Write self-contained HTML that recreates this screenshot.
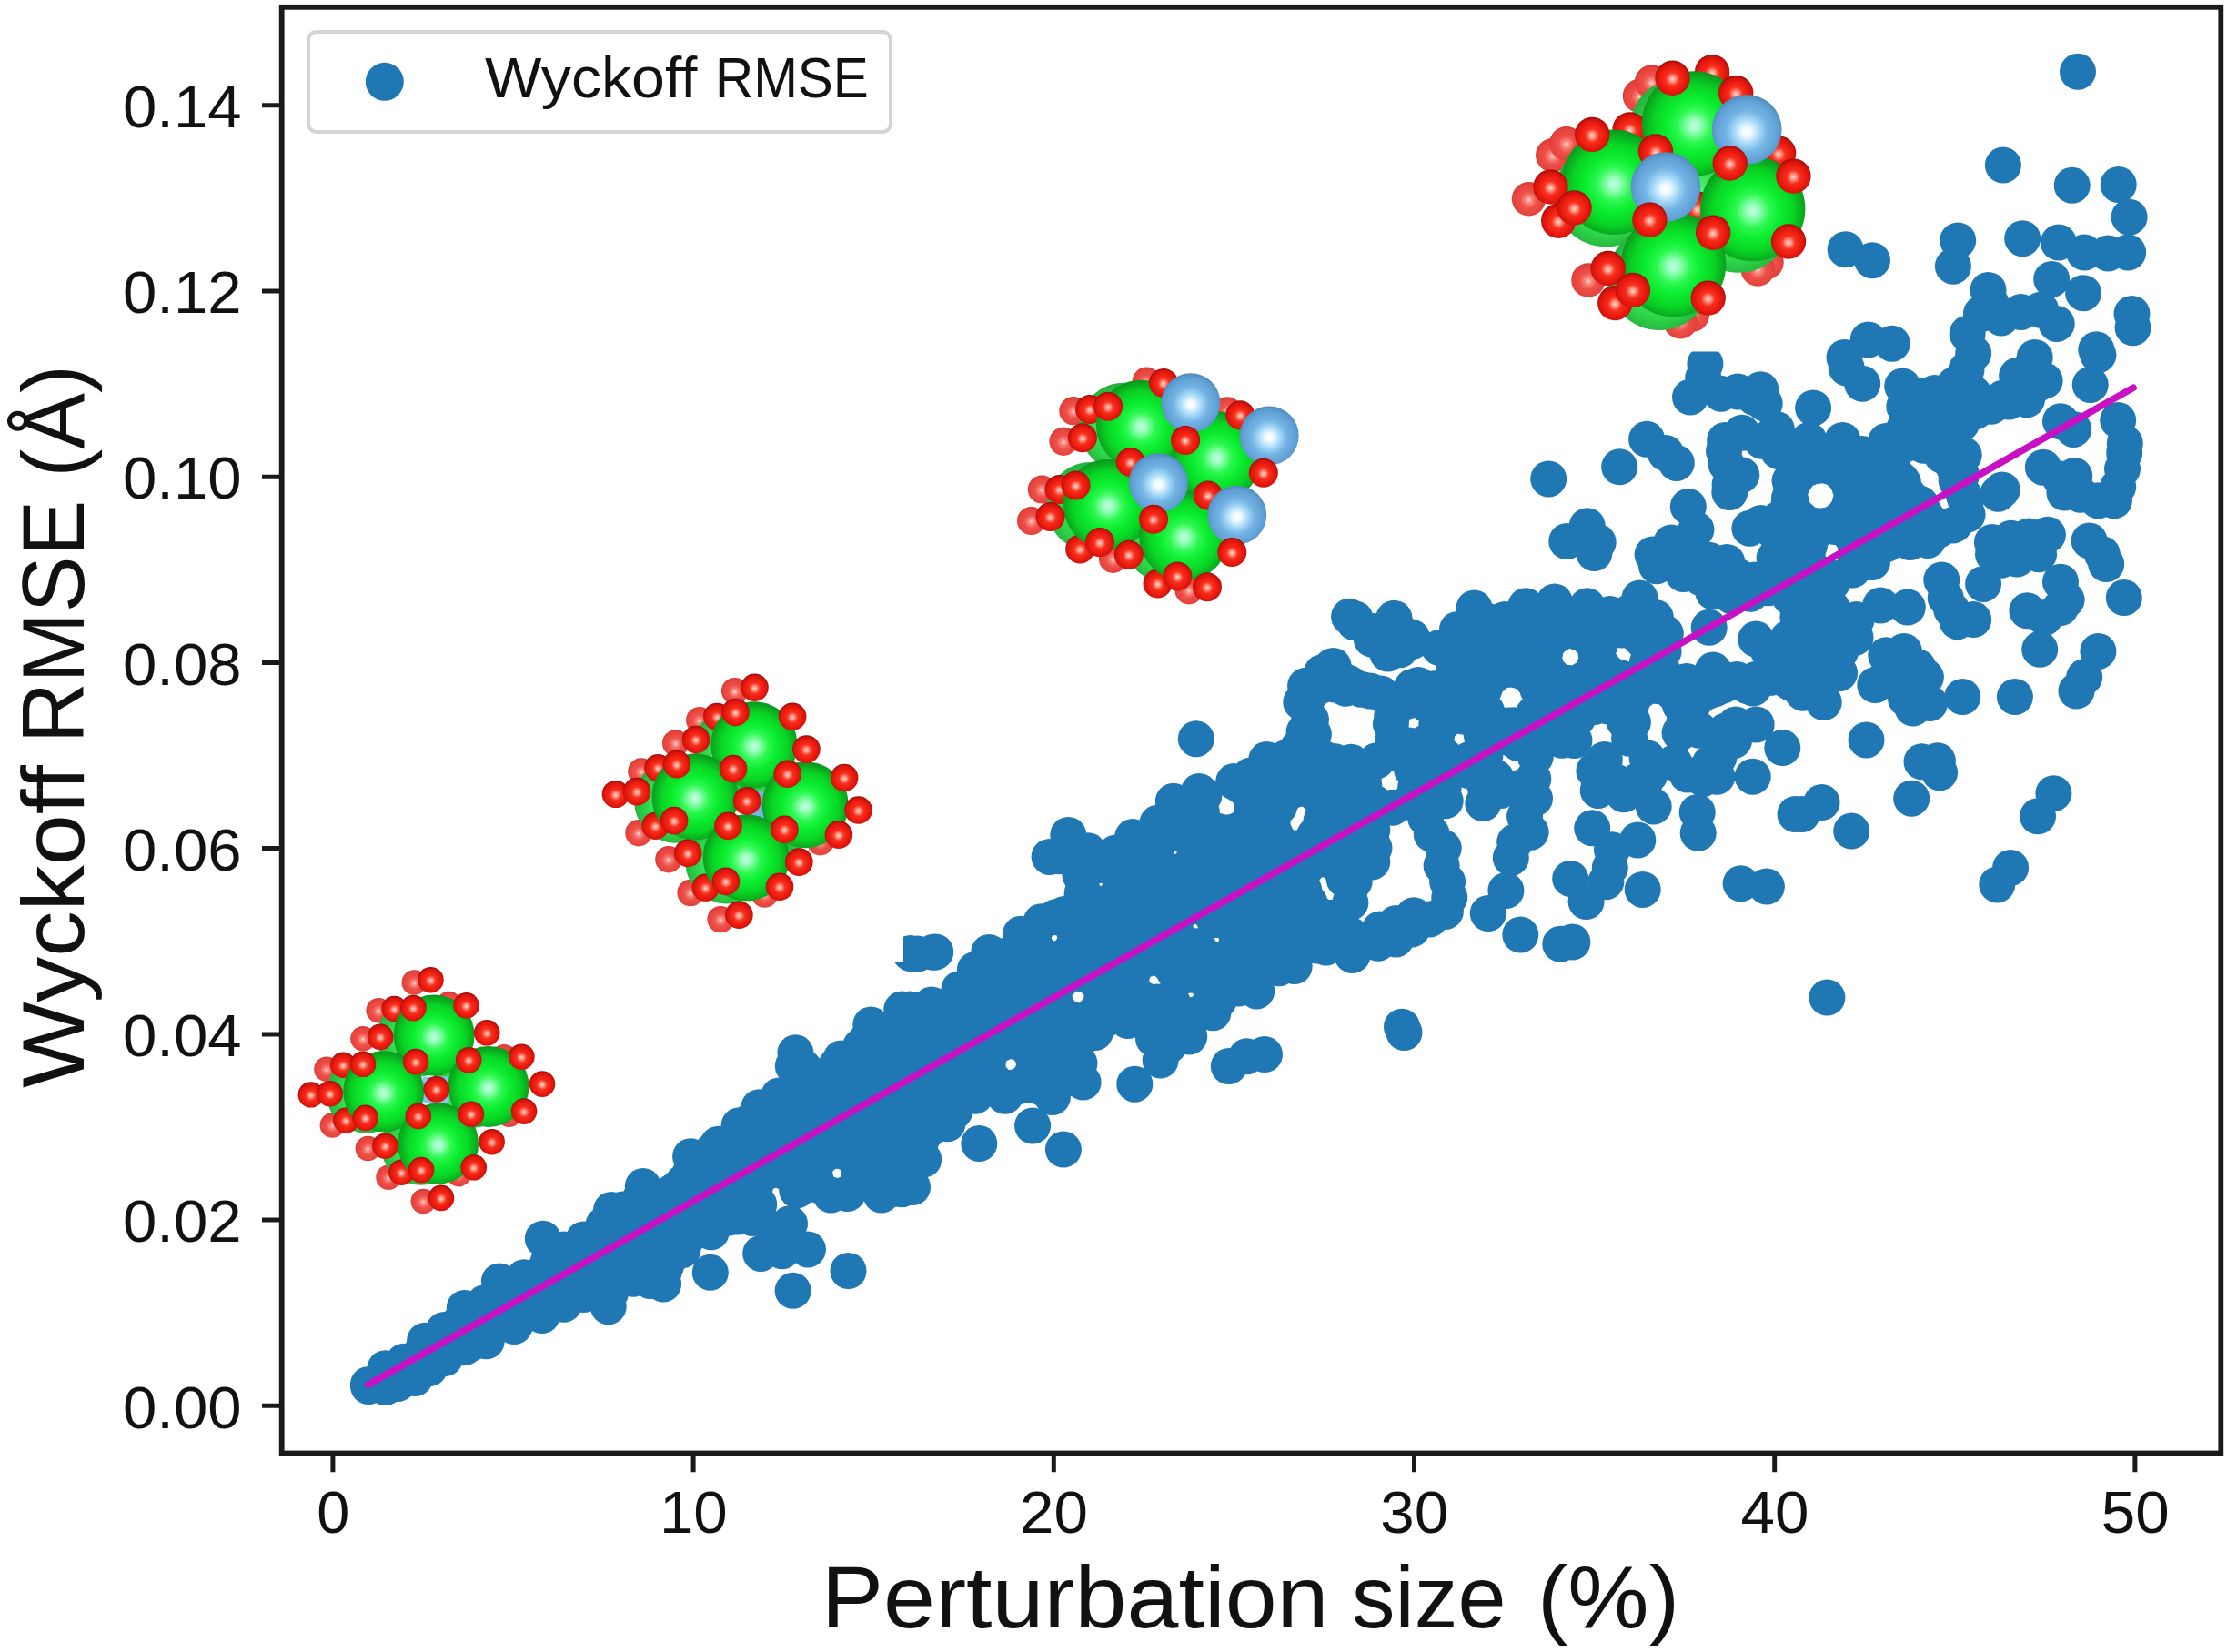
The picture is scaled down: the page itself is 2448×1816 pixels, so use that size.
<!DOCTYPE html>
<html><head><meta charset="utf-8"><title>Wyckoff RMSE vs perturbation size</title>
<style>html,body{margin:0;padding:0;background:#fff}svg{display:block}text{font-family:"Liberation Sans",sans-serif}</style>
</head><body>
<svg width="2448" height="1816" viewBox="0 0 2448 1816">
<rect width="2448" height="1816" fill="#fff"/>
<g fill="#1f77b4">
<circle cx="1435.1" cy="753.9" r="20.0"/><circle cx="1452.5" cy="745.2" r="20.0"/><circle cx="1465.6" cy="732.1" r="20.0"/><circle cx="1485.2" cy="752.8" r="20.0"/><circle cx="1505.9" cy="759.4" r="20.0"/><circle cx="1517.9" cy="762.6" r="20.0"/><circle cx="1496.2" cy="757.7" r="20.0"/><circle cx="1481.7" cy="750.4" r="20.0"/><circle cx="1441.0" cy="791.1" r="20.0"/><circle cx="1443.9" cy="807.1" r="20.0"/><circle cx="1489.0" cy="684.3" r="20.0"/><circle cx="1532.5" cy="680.0" r="20.0"/><circle cx="1525.3" cy="718.4" r="20.0"/><circle cx="1507.8" cy="702.5" r="20.0"/><circle cx="1544.1" cy="698.1" r="20.0"/><circle cx="2284.0" cy="78.8" r="20.0"/><circle cx="2201.9" cy="181.6" r="20.0"/><circle cx="2277.7" cy="203.8" r="20.0"/><circle cx="2328.7" cy="203.0" r="20.0"/><circle cx="2340.6" cy="238.7" r="20.0"/><circle cx="2152.2" cy="264.4" r="20.0"/><circle cx="2146.9" cy="292.7" r="20.0"/><circle cx="2223.2" cy="262.2" r="20.0"/><circle cx="2028.6" cy="274.2" r="20.0"/><circle cx="2058.0" cy="286.2" r="20.0"/><circle cx="2255.2" cy="306.9" r="20.0"/><circle cx="2185.5" cy="318.9" r="20.0"/><circle cx="2290.1" cy="322.2" r="20.0"/><circle cx="2343.5" cy="345.0" r="20.0"/><circle cx="2344.6" cy="360.3" r="20.0"/><circle cx="2162.6" cy="366.8" r="20.0"/><circle cx="2304.3" cy="384.3" r="20.0"/><circle cx="2053.7" cy="373.4" r="20.0"/><circle cx="2079.8" cy="377.7" r="20.0"/><circle cx="2262.9" cy="266.6" r="20.0"/><circle cx="2291.2" cy="277.5" r="20.0"/><circle cx="2317.3" cy="278.6" r="20.0"/><circle cx="2339.1" cy="277.5" r="20.0"/><circle cx="2177.9" cy="345.0" r="20.0"/><circle cx="2199.7" cy="349.4" r="20.0"/><circle cx="2221.5" cy="342.9" r="20.0"/><circle cx="2243.2" cy="340.7" r="20.0"/><circle cx="2260.7" cy="355.9" r="20.0"/><circle cx="2188.8" cy="334.1" r="20.0"/><circle cx="2169.2" cy="388.6" r="20.0"/><circle cx="2236.7" cy="393.0" r="20.0"/><circle cx="2027.5" cy="393.0" r="20.0"/><circle cx="2029.7" cy="404.4" r="20.0"/><circle cx="2047.2" cy="421.8" r="20.0"/><circle cx="1993.1" cy="448.4" r="20.0"/><circle cx="2091.2" cy="424.4" r="20.0"/><circle cx="2093.3" cy="446.8" r="20.0"/><circle cx="2110.3" cy="434.9" r="20.0"/><circle cx="2112.5" cy="454.5" r="20.0"/><circle cx="2126.7" cy="432.0" r="20.0"/><circle cx="2132.1" cy="452.3" r="20.0"/><circle cx="2148.5" cy="422.9" r="20.0"/><circle cx="2151.7" cy="443.6" r="20.0"/><circle cx="2161.5" cy="406.5" r="20.0"/><circle cx="2169.2" cy="432.7" r="20.0"/><circle cx="2171.3" cy="452.3" r="20.0"/><circle cx="2188.8" cy="446.8" r="20.0"/><circle cx="2208.4" cy="441.4" r="20.0"/><circle cx="2217.1" cy="413.1" r="20.0"/><circle cx="2219.3" cy="428.3" r="20.0"/><circle cx="2232.4" cy="404.4" r="20.0"/><circle cx="2236.7" cy="424.0" r="20.0"/><circle cx="2247.6" cy="418.5" r="20.0"/><circle cx="2228.0" cy="439.2" r="20.0"/><circle cx="2201.9" cy="437.5" r="20.0"/><circle cx="2297.7" cy="422.9" r="20.0"/><circle cx="2306.4" cy="390.2" r="20.0"/><circle cx="2265.0" cy="463.2" r="20.0"/><circle cx="2279.2" cy="471.9" r="20.0"/><circle cx="2328.2" cy="462.1" r="20.0"/><circle cx="2335.8" cy="487.2" r="20.0"/><circle cx="2335.2" cy="498.0" r="20.0"/><circle cx="2333.0" cy="515.5" r="20.0"/><circle cx="2328.2" cy="535.1" r="20.0"/><circle cx="2323.9" cy="550.3" r="20.0"/><circle cx="2245.9" cy="513.7" r="20.0"/><circle cx="2265.0" cy="526.4" r="20.0"/><circle cx="2280.3" cy="523.1" r="20.0"/><circle cx="2286.8" cy="543.8" r="20.0"/><circle cx="2306.4" cy="550.3" r="20.0"/><circle cx="2269.4" cy="541.6" r="20.0"/><circle cx="2105.9" cy="475.4" r="20.0"/><circle cx="2121.9" cy="474.9" r="20.0"/><circle cx="2135.2" cy="476.7" r="20.0"/><circle cx="2146.3" cy="477.5" r="20.0"/><circle cx="2083.2" cy="489.2" r="20.0"/><circle cx="2097.4" cy="487.2" r="20.0"/><circle cx="2114.7" cy="489.8" r="20.0"/><circle cx="2125.7" cy="488.0" r="20.0"/><circle cx="2142.8" cy="492.3" r="20.0"/><circle cx="1967.5" cy="501.1" r="20.0"/><circle cx="1983.9" cy="499.0" r="20.0"/><circle cx="1997.2" cy="500.5" r="20.0"/><circle cx="2006.9" cy="499.4" r="20.0"/><circle cx="2021.9" cy="503.6" r="20.0"/><circle cx="2035.1" cy="502.2" r="20.0"/><circle cx="2065.8" cy="501.0" r="20.0"/><circle cx="2079.3" cy="499.1" r="20.0"/><circle cx="2084.4" cy="495.7" r="20.0"/><circle cx="2134.7" cy="500.5" r="20.0"/><circle cx="2150.8" cy="502.9" r="20.0"/><circle cx="1972.5" cy="514.3" r="20.0"/><circle cx="1987.4" cy="514.5" r="20.0"/><circle cx="2003.4" cy="511.4" r="20.0"/><circle cx="2018.9" cy="511.6" r="20.0"/><circle cx="2029.5" cy="515.4" r="20.0"/><circle cx="2041.9" cy="513.8" r="20.0"/><circle cx="2055.2" cy="514.9" r="20.0"/><circle cx="2073.6" cy="514.3" r="20.0"/><circle cx="2080.8" cy="514.7" r="20.0"/><circle cx="2141.0" cy="504.3" r="20.0"/><circle cx="2147.1" cy="511.9" r="20.0"/><circle cx="1967.6" cy="528.5" r="20.0"/><circle cx="1975.5" cy="523.7" r="20.0"/><circle cx="1994.2" cy="512.2" r="20.0"/><circle cx="2013.5" cy="513.6" r="20.0"/><circle cx="2024.8" cy="520.9" r="20.0"/><circle cx="2035.0" cy="523.7" r="20.0"/><circle cx="2048.4" cy="527.6" r="20.0"/><circle cx="2062.8" cy="524.5" r="20.0"/><circle cx="2078.3" cy="528.2" r="20.0"/><circle cx="2089.4" cy="527.2" r="20.0"/><circle cx="2091.9" cy="530.4" r="20.0"/><circle cx="2150.7" cy="524.2" r="20.0"/><circle cx="2150.7" cy="528.5" r="20.0"/><circle cx="1969.9" cy="533.5" r="20.0"/><circle cx="1972.0" cy="528.8" r="20.0"/><circle cx="1996.6" cy="511.7" r="20.0"/><circle cx="2030.9" cy="528.9" r="20.0"/><circle cx="2033.6" cy="535.7" r="20.0"/><circle cx="2043.2" cy="538.5" r="20.0"/><circle cx="2060.7" cy="539.3" r="20.0"/><circle cx="2072.1" cy="538.8" r="20.0"/><circle cx="2087.1" cy="535.4" r="20.0"/><circle cx="2097.1" cy="543.5" r="20.0"/><circle cx="2111.0" cy="554.1" r="20.0"/><circle cx="1967.1" cy="547.5" r="20.0"/><circle cx="1968.3" cy="549.9" r="20.0"/><circle cx="1969.9" cy="556.3" r="20.0"/><circle cx="2028.8" cy="564.2" r="20.0"/><circle cx="2034.0" cy="552.6" r="20.0"/><circle cx="2034.2" cy="552.5" r="20.0"/><circle cx="2051.7" cy="548.1" r="20.0"/><circle cx="2063.5" cy="549.3" r="20.0"/><circle cx="2078.2" cy="548.0" r="20.0"/><circle cx="2095.1" cy="553.2" r="20.0"/><circle cx="2105.9" cy="551.7" r="20.0"/><circle cx="2158.8" cy="544.1" r="20.0"/><circle cx="1971.1" cy="565.1" r="20.0"/><circle cx="1979.5" cy="570.3" r="20.0"/><circle cx="2003.4" cy="578.3" r="20.0"/><circle cx="2021.1" cy="572.0" r="20.0"/><circle cx="2032.2" cy="563.5" r="20.0"/><circle cx="2042.6" cy="561.6" r="20.0"/><circle cx="2056.0" cy="564.0" r="20.0"/><circle cx="2072.2" cy="564.0" r="20.0"/><circle cx="2085.0" cy="560.7" r="20.0"/><circle cx="2101.9" cy="565.3" r="20.0"/><circle cx="2115.5" cy="564.4" r="20.0"/><circle cx="2121.7" cy="573.0" r="20.0"/><circle cx="2146.1" cy="577.5" r="20.0"/><circle cx="1966.1" cy="571.7" r="20.0"/><circle cx="1978.2" cy="573.2" r="20.0"/><circle cx="1993.1" cy="577.4" r="20.0"/><circle cx="2012.6" cy="576.5" r="20.0"/><circle cx="2025.6" cy="577.4" r="20.0"/><circle cx="2039.7" cy="573.7" r="20.0"/><circle cx="2049.3" cy="572.8" r="20.0"/><circle cx="2063.2" cy="572.7" r="20.0"/><circle cx="2079.7" cy="576.9" r="20.0"/><circle cx="2095.0" cy="574.4" r="20.0"/><circle cx="2107.9" cy="576.3" r="20.0"/><circle cx="2118.5" cy="575.4" r="20.0"/><circle cx="1976.5" cy="588.3" r="20.0"/><circle cx="1989.5" cy="586.5" r="20.0"/><circle cx="1996.5" cy="584.3" r="20.0"/><circle cx="2017.2" cy="579.1" r="20.0"/><circle cx="2032.8" cy="586.0" r="20.0"/><circle cx="2043.4" cy="589.3" r="20.0"/><circle cx="2059.3" cy="584.6" r="20.0"/><circle cx="2069.8" cy="584.5" r="20.0"/><circle cx="2088.4" cy="588.4" r="20.0"/><circle cx="2097.9" cy="588.6" r="20.0"/><circle cx="2116.9" cy="587.5" r="20.0"/><circle cx="1966.1" cy="599.0" r="20.0"/><circle cx="1978.8" cy="595.8" r="20.0"/><circle cx="1989.0" cy="598.4" r="20.0"/><circle cx="1988.9" cy="599.7" r="20.0"/><circle cx="2039.0" cy="597.0" r="20.0"/><circle cx="2049.5" cy="597.5" r="20.0"/><circle cx="1972.4" cy="611.4" r="20.0"/><circle cx="1986.6" cy="610.4" r="20.0"/><circle cx="2043.5" cy="613.4" r="20.0"/><circle cx="1960.0" cy="487.2" r="20.0"/><circle cx="1988.3" cy="483.9" r="20.0"/><circle cx="2025.4" cy="483.9" r="20.0"/><circle cx="2047.2" cy="499.1" r="20.0"/><circle cx="2073.3" cy="485.0" r="20.0"/><circle cx="2092.9" cy="471.9" r="20.0"/><circle cx="2156.1" cy="465.4" r="20.0"/><circle cx="2158.7" cy="500.2" r="20.0"/><circle cx="2156.1" cy="522.0" r="20.0"/><circle cx="2160.9" cy="550.0" r="20.0"/><circle cx="2162.6" cy="565.6" r="20.0"/><circle cx="2148.5" cy="576.4" r="20.0"/><circle cx="2129.9" cy="583.0" r="20.0"/><circle cx="2119.1" cy="593.9" r="20.0"/><circle cx="2099.4" cy="596.1" r="20.0"/><circle cx="2073.3" cy="598.3" r="20.0"/><circle cx="2058.0" cy="617.9" r="20.0"/><circle cx="1960.0" cy="617.9" r="20.0"/><circle cx="2200.8" cy="538.4" r="20.0"/><circle cx="2196.4" cy="542.7" r="20.0"/><circle cx="1967.0" cy="630.2" r="20.0"/><circle cx="1981.1" cy="627.1" r="20.0"/><circle cx="1994.6" cy="628.1" r="20.0"/><circle cx="2006.0" cy="631.8" r="20.0"/><circle cx="1972.0" cy="642.0" r="20.0"/><circle cx="1989.4" cy="642.5" r="20.0"/><circle cx="2001.0" cy="642.2" r="20.0"/><circle cx="1967.3" cy="656.0" r="20.0"/><circle cx="1978.6" cy="654.6" r="20.0"/><circle cx="1993.5" cy="652.9" r="20.0"/><circle cx="1975.6" cy="666.4" r="20.0"/><circle cx="1988.4" cy="667.9" r="20.0"/><circle cx="2004.5" cy="666.0" r="20.0"/><circle cx="1976.4" cy="678.3" r="20.0"/><circle cx="1981.1" cy="679.7" r="20.0"/><circle cx="1994.7" cy="678.7" r="20.0"/><circle cx="2008.9" cy="681.2" r="20.0"/><circle cx="1975.2" cy="692.9" r="20.0"/><circle cx="1990.7" cy="689.2" r="20.0"/><circle cx="2002.4" cy="693.3" r="20.0"/><circle cx="2018.0" cy="688.5" r="20.0"/><circle cx="2027.7" cy="690.3" r="20.0"/><circle cx="1965.2" cy="702.1" r="20.0"/><circle cx="1978.4" cy="703.8" r="20.0"/><circle cx="1996.7" cy="705.1" r="20.0"/><circle cx="2006.9" cy="704.0" r="20.0"/><circle cx="2024.0" cy="700.6" r="20.0"/><circle cx="1976.3" cy="717.7" r="20.0"/><circle cx="1986.3" cy="717.6" r="20.0"/><circle cx="2001.4" cy="714.8" r="20.0"/><circle cx="2018.9" cy="716.9" r="20.0"/><circle cx="1965.0" cy="726.6" r="20.0"/><circle cx="1981.1" cy="726.0" r="20.0"/><circle cx="1993.2" cy="725.9" r="20.0"/><circle cx="2010.3" cy="724.1" r="20.0"/><circle cx="1974.3" cy="738.8" r="20.0"/><circle cx="1965.2" cy="748.3" r="20.0"/><circle cx="1960.0" cy="617.9" r="20.0"/><circle cx="2051.5" cy="617.9" r="20.0"/><circle cx="2036.3" cy="626.6" r="20.0"/><circle cx="2014.5" cy="639.7" r="20.0"/><circle cx="2013.4" cy="668.0" r="20.0"/><circle cx="2040.6" cy="681.1" r="20.0"/><circle cx="2039.5" cy="700.7" r="20.0"/><circle cx="2023.2" cy="715.9" r="20.0"/><circle cx="2022.1" cy="739.9" r="20.0"/><circle cx="1992.7" cy="739.9" r="20.0"/><circle cx="1981.8" cy="761.7" r="20.0"/><circle cx="1968.9" cy="750.9" r="20.0"/><circle cx="2067.2" cy="665.4" r="20.0"/><circle cx="2096.8" cy="667.6" r="20.0"/><circle cx="2134.3" cy="637.5" r="20.0"/><circle cx="2138.7" cy="657.1" r="20.0"/><circle cx="2145.2" cy="670.2" r="20.0"/><circle cx="2169.2" cy="681.1" r="20.0"/><circle cx="2151.7" cy="683.2" r="20.0"/><circle cx="2180.1" cy="641.9" r="20.0"/><circle cx="2189.9" cy="596.1" r="20.0"/><circle cx="2210.6" cy="591.7" r="20.0"/><circle cx="2230.2" cy="589.6" r="20.0"/><circle cx="2250.9" cy="587.8" r="20.0"/><circle cx="2199.7" cy="615.7" r="20.0"/><circle cx="2217.1" cy="614.6" r="20.0"/><circle cx="2241.1" cy="609.2" r="20.0"/><circle cx="2191.0" cy="609.2" r="20.0"/><circle cx="2296.6" cy="594.4" r="20.0"/><circle cx="2310.8" cy="609.2" r="20.0"/><circle cx="2315.2" cy="620.1" r="20.0"/><circle cx="2265.0" cy="639.7" r="20.0"/><circle cx="2271.6" cy="659.3" r="20.0"/><circle cx="2228.4" cy="671.3" r="20.0"/><circle cx="2247.6" cy="678.9" r="20.0"/><circle cx="2265.0" cy="668.0" r="20.0"/><circle cx="2242.2" cy="713.8" r="20.0"/><circle cx="2334.8" cy="657.1" r="20.0"/><circle cx="2306.4" cy="715.9" r="20.0"/><circle cx="2291.2" cy="744.3" r="20.0"/><circle cx="2282.5" cy="759.5" r="20.0"/><circle cx="2073.3" cy="720.3" r="20.0"/><circle cx="2092.9" cy="715.9" r="20.0"/><circle cx="2108.2" cy="733.4" r="20.0"/><circle cx="2116.9" cy="744.3" r="20.0"/><circle cx="2090.7" cy="750.8" r="20.0"/><circle cx="2073.3" cy="744.3" r="20.0"/><circle cx="2095.1" cy="768.2" r="20.0"/><circle cx="2157.2" cy="766.0" r="20.0"/><circle cx="2214.9" cy="766.0" r="20.0"/><circle cx="1702.2" cy="526.4" r="20.0"/><circle cx="1780.2" cy="513.3" r="20.0"/><circle cx="1810.1" cy="482.8" r="20.0"/><circle cx="1830.8" cy="498.0" r="20.0"/><circle cx="1842.8" cy="508.9" r="20.0"/><circle cx="1744.7" cy="578.2" r="20.0"/><circle cx="1722.3" cy="595.0" r="20.0"/><circle cx="1756.7" cy="596.1" r="20.0"/><circle cx="1752.4" cy="608.1" r="20.0"/><circle cx="1858.0" cy="436.6" r="20.0"/><circle cx="1872.2" cy="415.3" r="20.0"/><circle cx="1874.4" cy="400.0" r="20.0"/><circle cx="1910.3" cy="430.5" r="20.0"/><circle cx="1928.8" cy="437.0" r="20.0"/><circle cx="1939.7" cy="443.6" r="20.0"/><circle cx="1935.4" cy="428.3" r="20.0"/><circle cx="1891.8" cy="432.7" r="20.0"/><circle cx="1896.2" cy="483.9" r="20.0"/><circle cx="1895.0" cy="495.8" r="20.0"/><circle cx="1914.9" cy="475.8" r="20.0"/><circle cx="1937.0" cy="484.8" r="20.0"/><circle cx="1897.5" cy="510.0" r="20.0"/><circle cx="1914.3" cy="522.2" r="20.0"/><circle cx="1901.6" cy="532.9" r="20.0"/><circle cx="1901.3" cy="541.0" r="20.0"/><circle cx="1952.8" cy="471.9" r="20.0"/><circle cx="1955.0" cy="495.9" r="20.0"/><circle cx="1923.4" cy="580.8" r="20.0"/><circle cx="1935.6" cy="575.1" r="20.0"/><circle cx="1950.6" cy="585.2" r="20.0"/><circle cx="1966.3" cy="555.1" r="20.0"/><circle cx="1955.0" cy="571.0" r="20.0"/><circle cx="1855.8" cy="556.9" r="20.0"/><circle cx="1864.4" cy="582.2" r="20.0"/><circle cx="1816.6" cy="609.6" r="20.0"/><circle cx="1837.3" cy="596.5" r="20.0"/><circle cx="1821.0" cy="622.2" r="20.0"/><circle cx="1839.5" cy="617.9" r="20.0"/><circle cx="1859.1" cy="615.7" r="20.0"/><circle cx="1878.7" cy="615.7" r="20.0"/><circle cx="1898.3" cy="617.9" r="20.0"/><circle cx="1910.4" cy="633.7" r="20.0"/><circle cx="1850.4" cy="631.0" r="20.0"/><circle cx="1870.0" cy="635.3" r="20.0"/><circle cx="1889.6" cy="637.5" r="20.0"/><circle cx="1909.2" cy="639.7" r="20.0"/><circle cx="1928.8" cy="637.5" r="20.0"/><circle cx="1948.5" cy="631.0" r="20.0"/><circle cx="1883.1" cy="650.6" r="20.0"/><circle cx="1902.7" cy="654.9" r="20.0"/><circle cx="1924.5" cy="652.7" r="20.0"/><circle cx="1944.1" cy="646.2" r="20.0"/><circle cx="1950.6" cy="613.5" r="20.0"/><circle cx="1859.1" cy="596.1" r="20.0"/><circle cx="1711.7" cy="669.7" r="20.0"/><circle cx="1792.4" cy="672.6" r="20.0"/><circle cx="1621.7" cy="684.6" r="20.0"/><circle cx="1673.6" cy="680.4" r="20.0"/><circle cx="1687.2" cy="683.5" r="20.0"/><circle cx="1702.6" cy="679.6" r="20.0"/><circle cx="1717.5" cy="684.3" r="20.0"/><circle cx="1733.9" cy="680.3" r="20.0"/><circle cx="1743.9" cy="684.3" r="20.0"/><circle cx="1760.4" cy="683.0" r="20.0"/><circle cx="1771.5" cy="679.1" r="20.0"/><circle cx="1789.1" cy="681.3" r="20.0"/><circle cx="1799.4" cy="684.4" r="20.0"/><circle cx="1526.5" cy="696.0" r="20.0"/><circle cx="1610.4" cy="696.1" r="20.0"/><circle cx="1626.7" cy="692.9" r="20.0"/><circle cx="1641.3" cy="696.5" r="20.0"/><circle cx="1653.6" cy="691.7" r="20.0"/><circle cx="1669.2" cy="692.3" r="20.0"/><circle cx="1680.7" cy="691.9" r="20.0"/><circle cx="1694.3" cy="692.1" r="20.0"/><circle cx="1709.9" cy="692.7" r="20.0"/><circle cx="1726.6" cy="692.7" r="20.0"/><circle cx="1739.0" cy="692.0" r="20.0"/><circle cx="1752.1" cy="691.0" r="20.0"/><circle cx="1765.5" cy="691.0" r="20.0"/><circle cx="1782.3" cy="692.5" r="20.0"/><circle cx="1793.1" cy="693.8" r="20.0"/><circle cx="1811.6" cy="691.5" r="20.0"/><circle cx="1521.4" cy="706.1" r="20.0"/><circle cx="1537.1" cy="708.9" r="20.0"/><circle cx="1605.1" cy="708.0" r="20.0"/><circle cx="1621.2" cy="706.9" r="20.0"/><circle cx="1633.4" cy="705.1" r="20.0"/><circle cx="1645.3" cy="703.8" r="20.0"/><circle cx="1659.4" cy="707.5" r="20.0"/><circle cx="1674.5" cy="704.0" r="20.0"/><circle cx="1687.5" cy="708.1" r="20.0"/><circle cx="1703.5" cy="704.9" r="20.0"/><circle cx="1712.8" cy="697.1" r="20.0"/><circle cx="1733.8" cy="694.8" r="20.0"/><circle cx="1747.1" cy="702.7" r="20.0"/><circle cx="1758.6" cy="708.8" r="20.0"/><circle cx="1803.6" cy="701.9" r="20.0"/><circle cx="1813.0" cy="705.3" r="20.0"/><circle cx="1526.5" cy="717.6" r="20.0"/><circle cx="1538.8" cy="714.3" r="20.0"/><circle cx="1553.0" cy="704.8" r="20.0"/><circle cx="1600.5" cy="719.1" r="20.0"/><circle cx="1614.3" cy="720.4" r="20.0"/><circle cx="1626.3" cy="717.1" r="20.0"/><circle cx="1643.9" cy="716.1" r="20.0"/><circle cx="1656.3" cy="719.0" r="20.0"/><circle cx="1666.3" cy="720.2" r="20.0"/><circle cx="1685.4" cy="718.9" r="20.0"/><circle cx="1697.6" cy="720.0" r="20.0"/><circle cx="1698.3" cy="715.8" r="20.0"/><circle cx="1713.1" cy="696.9" r="20.0"/><circle cx="1754.6" cy="717.9" r="20.0"/><circle cx="1754.9" cy="720.4" r="20.0"/><circle cx="1808.3" cy="707.1" r="20.0"/><circle cx="1598.2" cy="727.3" r="20.0"/><circle cx="1603.4" cy="728.9" r="20.0"/><circle cx="1621.4" cy="728.5" r="20.0"/><circle cx="1635.4" cy="733.1" r="20.0"/><circle cx="1648.0" cy="729.6" r="20.0"/><circle cx="1661.9" cy="731.4" r="20.0"/><circle cx="1677.6" cy="731.0" r="20.0"/><circle cx="1690.9" cy="727.7" r="20.0"/><circle cx="1698.4" cy="729.7" r="20.0"/><circle cx="1705.7" cy="742.6" r="20.0"/><circle cx="1748.8" cy="740.3" r="20.0"/><circle cx="1753.1" cy="732.5" r="20.0"/><circle cx="1761.0" cy="731.4" r="20.0"/><circle cx="1559.0" cy="753.1" r="20.0"/><circle cx="1589.0" cy="753.7" r="20.0"/><circle cx="1597.3" cy="742.9" r="20.0"/><circle cx="1610.9" cy="742.6" r="20.0"/><circle cx="1629.7" cy="740.2" r="20.0"/><circle cx="1642.4" cy="741.8" r="20.0"/><circle cx="1656.1" cy="736.0" r="20.0"/><circle cx="1669.7" cy="737.0" r="20.0"/><circle cx="1682.9" cy="739.6" r="20.0"/><circle cx="1694.0" cy="742.4" r="20.0"/><circle cx="1707.9" cy="744.6" r="20.0"/><circle cx="1721.2" cy="750.7" r="20.0"/><circle cx="1739.7" cy="747.8" r="20.0"/><circle cx="1750.0" cy="743.9" r="20.0"/><circle cx="1769.0" cy="740.1" r="20.0"/><circle cx="1547.8" cy="762.7" r="20.0"/><circle cx="1552.2" cy="755.3" r="20.0"/><circle cx="1575.6" cy="757.6" r="20.0"/><circle cx="1590.7" cy="757.1" r="20.0"/><circle cx="1604.5" cy="753.1" r="20.0"/><circle cx="1620.1" cy="752.7" r="20.0"/><circle cx="1631.6" cy="756.7" r="20.0"/><circle cx="1638.6" cy="745.1" r="20.0"/><circle cx="1667.0" cy="736.3" r="20.0"/><circle cx="1686.7" cy="749.6" r="20.0"/><circle cx="1691.3" cy="751.8" r="20.0"/><circle cx="1705.4" cy="754.2" r="20.0"/><circle cx="1719.5" cy="755.4" r="20.0"/><circle cx="1730.7" cy="751.8" r="20.0"/><circle cx="1748.6" cy="752.3" r="20.0"/><circle cx="1759.8" cy="753.6" r="20.0"/><circle cx="1483.1" cy="677.8" r="20.0"/><circle cx="1489.5" cy="680.4" r="20.0"/><circle cx="1510.5" cy="694.1" r="20.0"/><circle cx="1532.3" cy="680.0" r="20.0"/><circle cx="1551.9" cy="700.7" r="20.0"/><circle cx="1582.4" cy="712.0" r="20.0"/><circle cx="1602.0" cy="692.0" r="20.0"/><circle cx="1620.5" cy="668.4" r="20.0"/><circle cx="1636.9" cy="683.2" r="20.0"/><circle cx="1654.3" cy="681.1" r="20.0"/><circle cx="1677.2" cy="666.3" r="20.0"/><circle cx="1708.8" cy="661.5" r="20.0"/><circle cx="1744.7" cy="666.3" r="20.0"/><circle cx="1769.8" cy="675.0" r="20.0"/><circle cx="1802.5" cy="657.5" r="20.0"/><circle cx="1819.9" cy="678.9" r="20.0"/><circle cx="1830.8" cy="696.3" r="20.0"/><circle cx="1828.6" cy="715.9" r="20.0"/><circle cx="1810.9" cy="728.3" r="20.0"/><circle cx="1763.2" cy="770.4" r="20.0"/><circle cx="1479.4" cy="756.5" r="20.0"/><circle cx="1878.7" cy="689.8" r="20.0"/><circle cx="1930.2" cy="702.6" r="20.0"/><circle cx="1944.1" cy="715.9" r="20.0"/><circle cx="1883.1" cy="736.6" r="20.0"/><circle cx="1885.3" cy="757.3" r="20.0"/><circle cx="1828.6" cy="739.9" r="20.0"/><circle cx="1839.5" cy="757.3" r="20.0"/><circle cx="1950.6" cy="739.9" r="20.0"/><circle cx="1946.1" cy="744.7" r="20.0"/><circle cx="1478.9" cy="756.6" r="20.0"/><circle cx="1542.1" cy="767.5" r="20.0"/><circle cx="1554.4" cy="758.5" r="20.0"/><circle cx="1573.6" cy="761.8" r="20.0"/><circle cx="1593.8" cy="758.8" r="20.0"/><circle cx="1614.6" cy="762.2" r="20.0"/><circle cx="1631.1" cy="758.3" r="20.0"/><circle cx="1635.9" cy="748.3" r="20.0"/><circle cx="1682.5" cy="744.5" r="20.0"/><circle cx="1690.6" cy="758.1" r="20.0"/><circle cx="1708.0" cy="761.7" r="20.0"/><circle cx="1727.8" cy="759.6" r="20.0"/><circle cx="1745.3" cy="760.1" r="20.0"/><circle cx="1764.1" cy="759.3" r="20.0"/><circle cx="1781.7" cy="759.0" r="20.0"/><circle cx="1804.6" cy="758.4" r="20.0"/><circle cx="1822.1" cy="754.0" r="20.0"/><circle cx="1842.1" cy="758.8" r="20.0"/><circle cx="1858.5" cy="758.9" r="20.0"/><circle cx="1878.0" cy="759.8" r="20.0"/><circle cx="1894.1" cy="753.5" r="20.0"/><circle cx="1920.8" cy="754.1" r="20.0"/><circle cx="1927.1" cy="756.6" r="20.0"/><circle cx="1531.8" cy="777.3" r="20.0"/><circle cx="1547.5" cy="770.5" r="20.0"/><circle cx="1569.6" cy="775.0" r="20.0"/><circle cx="1586.5" cy="779.0" r="20.0"/><circle cx="1605.5" cy="776.3" r="20.0"/><circle cx="1620.0" cy="775.9" r="20.0"/><circle cx="1633.9" cy="781.7" r="20.0"/><circle cx="1659.4" cy="797.4" r="20.0"/><circle cx="1685.8" cy="784.8" r="20.0"/><circle cx="1694.8" cy="777.7" r="20.0"/><circle cx="1711.3" cy="778.7" r="20.0"/><circle cx="1730.5" cy="779.3" r="20.0"/><circle cx="1750.6" cy="776.6" r="20.0"/><circle cx="1766.7" cy="776.3" r="20.0"/><circle cx="1787.2" cy="778.3" r="20.0"/><circle cx="1793.8" cy="772.0" r="20.0"/><circle cx="1838.2" cy="760.8" r="20.0"/><circle cx="1846.8" cy="774.7" r="20.0"/><circle cx="1860.4" cy="775.3" r="20.0"/><circle cx="1867.6" cy="765.8" r="20.0"/><circle cx="1528.9" cy="795.9" r="20.0"/><circle cx="1530.3" cy="786.4" r="20.0"/><circle cx="1579.3" cy="796.2" r="20.0"/><circle cx="1586.7" cy="793.8" r="20.0"/><circle cx="1608.3" cy="787.4" r="20.0"/><circle cx="1623.9" cy="792.8" r="20.0"/><circle cx="1643.3" cy="794.5" r="20.0"/><circle cx="1664.2" cy="797.2" r="20.0"/><circle cx="1683.3" cy="795.9" r="20.0"/><circle cx="1701.0" cy="793.6" r="20.0"/><circle cx="1722.0" cy="794.0" r="20.0"/><circle cx="1734.1" cy="789.6" r="20.0"/><circle cx="1752.5" cy="776.9" r="20.0"/><circle cx="1785.1" cy="792.1" r="20.0"/><circle cx="1794.9" cy="794.0" r="20.0"/><circle cx="1851.4" cy="794.4" r="20.0"/><circle cx="1866.5" cy="801.2" r="20.0"/><circle cx="1896.7" cy="803.6" r="20.0"/><circle cx="1908.0" cy="796.5" r="20.0"/><circle cx="1930.6" cy="796.5" r="20.0"/><circle cx="1531.1" cy="814.5" r="20.0"/><circle cx="1549.1" cy="819.6" r="20.0"/><circle cx="1567.5" cy="816.2" r="20.0"/><circle cx="1579.1" cy="809.2" r="20.0"/><circle cx="1628.1" cy="804.3" r="20.0"/><circle cx="1629.4" cy="811.3" r="20.0"/><circle cx="1641.1" cy="810.1" r="20.0"/><circle cx="1660.3" cy="811.6" r="20.0"/><circle cx="1682.0" cy="810.7" r="20.0"/><circle cx="1700.8" cy="811.0" r="20.0"/><circle cx="1716.9" cy="813.7" r="20.0"/><circle cx="1730.5" cy="814.1" r="20.0"/><circle cx="1791.1" cy="811.7" r="20.0"/><circle cx="1846.6" cy="805.7" r="20.0"/><circle cx="1868.0" cy="802.7" r="20.0"/><circle cx="1888.0" cy="811.2" r="20.0"/><circle cx="1906.0" cy="814.0" r="20.0"/><circle cx="1575.0" cy="757.6" r="20.0"/><circle cx="1596.2" cy="745.9" r="20.0"/><circle cx="1610.0" cy="746.8" r="20.0"/><circle cx="1631.9" cy="748.9" r="20.0"/><circle cx="1644.7" cy="740.2" r="20.0"/><circle cx="1670.2" cy="737.1" r="20.0"/><circle cx="1688.0" cy="745.5" r="20.0"/><circle cx="1706.2" cy="748.0" r="20.0"/><circle cx="1724.9" cy="751.2" r="20.0"/><circle cx="1742.8" cy="746.2" r="20.0"/><circle cx="1760.3" cy="746.3" r="20.0"/><circle cx="1781.0" cy="745.1" r="20.0"/><circle cx="1797.2" cy="748.0" r="20.0"/><circle cx="1816.2" cy="745.0" r="20.0"/><circle cx="1834.0" cy="747.2" r="20.0"/><circle cx="1854.0" cy="749.0" r="20.0"/><circle cx="1875.2" cy="749.1" r="20.0"/><circle cx="1891.2" cy="745.1" r="20.0"/><circle cx="1909.2" cy="746.9" r="20.0"/><circle cx="1930.6" cy="746.7" r="20.0"/><circle cx="1947.0" cy="744.6" r="20.0"/><circle cx="1485.3" cy="837.8" r="20.0"/><circle cx="1513.3" cy="836.3" r="20.0"/><circle cx="1529.5" cy="828.1" r="20.0"/><circle cx="1550.3" cy="828.8" r="20.0"/><circle cx="1569.2" cy="829.2" r="20.0"/><circle cx="1587.5" cy="831.2" r="20.0"/><circle cx="1487.6" cy="846.0" r="20.0"/><circle cx="1500.3" cy="848.8" r="20.0"/><circle cx="1552.2" cy="846.4" r="20.0"/><circle cx="1570.0" cy="849.3" r="20.0"/><circle cx="1589.0" cy="846.0" r="20.0"/><circle cx="1490.1" cy="865.3" r="20.0"/><circle cx="1499.2" cy="863.1" r="20.0"/><circle cx="1556.1" cy="866.0" r="20.0"/><circle cx="1574.1" cy="866.4" r="20.0"/><circle cx="1586.9" cy="863.7" r="20.0"/><circle cx="1487.1" cy="880.7" r="20.0"/><circle cx="1510.4" cy="882.4" r="20.0"/><circle cx="1530.7" cy="887.8" r="20.0"/><circle cx="1549.1" cy="881.8" r="20.0"/><circle cx="1566.1" cy="883.2" r="20.0"/><circle cx="1588.7" cy="880.3" r="20.0"/><circle cx="1567.2" cy="899.4" r="20.0"/><circle cx="1573.7" cy="916.9" r="20.0"/><circle cx="1586.8" cy="932.1" r="20.0"/><circle cx="1584.6" cy="951.7" r="20.0"/><circle cx="1591.1" cy="969.2" r="20.0"/><circle cx="1593.3" cy="986.6" r="20.0"/><circle cx="1588.9" cy="1001.9" r="20.0"/><circle cx="1488.7" cy="899.4" r="20.0"/><circle cx="1508.3" cy="912.5" r="20.0"/><circle cx="1510.5" cy="932.1" r="20.0"/><circle cx="1508.3" cy="947.4" r="20.0"/><circle cx="1488.7" cy="969.2" r="20.0"/><circle cx="1484.4" cy="951.7" r="20.0"/><circle cx="1486.5" cy="925.6" r="20.0"/><circle cx="1488.7" cy="912.5" r="20.0"/><circle cx="1508.3" cy="895.1" r="20.0"/><circle cx="1571.5" cy="1010.6" r="20.0"/><circle cx="1551.9" cy="1021.5" r="20.0"/><circle cx="1534.5" cy="1014.9" r="20.0"/><circle cx="1517.0" cy="1021.5" r="20.0"/><circle cx="1534.5" cy="1032.4" r="20.0"/><circle cx="1514.9" cy="1036.7" r="20.0"/><circle cx="1497.4" cy="1034.5" r="20.0"/><circle cx="1486.5" cy="1049.8" r="20.0"/><circle cx="1484.4" cy="1028.0" r="20.0"/><circle cx="1554.1" cy="1006.2" r="20.0"/><circle cx="1630.3" cy="883.1" r="20.0"/><circle cx="1632.5" cy="864.6" r="20.0"/><circle cx="1649.9" cy="868.9" r="20.0"/><circle cx="1670.3" cy="866.0" r="20.0"/><circle cx="1687.0" cy="877.7" r="20.0"/><circle cx="1676.1" cy="897.3" r="20.0"/><circle cx="1682.6" cy="914.7" r="20.0"/><circle cx="1665.2" cy="925.6" r="20.0"/><circle cx="1660.8" cy="943.0" r="20.0"/><circle cx="1669.6" cy="817.3" r="20.0"/><circle cx="1644.3" cy="855.1" r="20.0"/><circle cx="1632.5" cy="847.2" r="20.0"/><circle cx="1615.1" cy="847.2" r="20.0"/><circle cx="1615.5" cy="834.9" r="20.0"/><circle cx="1632.5" cy="829.7" r="20.0"/><circle cx="1687.8" cy="831.5" r="20.0"/><circle cx="1685.3" cy="856.2" r="20.0"/><circle cx="1655.4" cy="979.0" r="20.0"/><circle cx="1635.8" cy="1004.0" r="20.0"/><circle cx="1671.3" cy="1027.6" r="20.0"/><circle cx="1715.3" cy="1037.8" r="20.0"/><circle cx="1728.4" cy="1035.6" r="20.0"/><circle cx="1756.7" cy="868.9" r="20.0"/><circle cx="1763.2" cy="851.5" r="20.0"/><circle cx="1775.6" cy="859.3" r="20.0"/><circle cx="1800.5" cy="858.3" r="20.0"/><circle cx="1785.0" cy="873.3" r="20.0"/><circle cx="1806.8" cy="868.9" r="20.0"/><circle cx="1817.7" cy="886.4" r="20.0"/><circle cx="1752.4" cy="847.2" r="20.0"/><circle cx="1763.8" cy="834.9" r="20.0"/><circle cx="1810.6" cy="833.2" r="20.0"/><circle cx="1813.4" cy="851.5" r="20.0"/><circle cx="1750.2" cy="910.3" r="20.0"/><circle cx="1800.3" cy="923.4" r="20.0"/><circle cx="1772.0" cy="934.3" r="20.0"/><circle cx="1769.8" cy="953.9" r="20.0"/><circle cx="1765.4" cy="969.2" r="20.0"/><circle cx="1726.2" cy="965.9" r="20.0"/><circle cx="1743.6" cy="991.0" r="20.0"/><circle cx="1805.7" cy="977.9" r="20.0"/><circle cx="1865.7" cy="892.9" r="20.0"/><circle cx="1866.7" cy="915.8" r="20.0"/><circle cx="1913.6" cy="971.3" r="20.0"/><circle cx="1941.9" cy="974.6" r="20.0"/><circle cx="1854.8" cy="851.5" r="20.0"/><circle cx="1872.2" cy="855.9" r="20.0"/><circle cx="1887.4" cy="853.7" r="20.0"/><circle cx="1926.7" cy="853.7" r="20.0"/><circle cx="1840.3" cy="838.6" r="20.0"/><circle cx="1879.6" cy="839.4" r="20.0"/><circle cx="1889.6" cy="831.9" r="20.0"/><circle cx="1959.3" cy="822.1" r="20.0"/><circle cx="1973.5" cy="895.1" r="20.0"/><circle cx="1541.0" cy="1128.7" r="20.0"/><circle cx="2004.7" cy="772.0" r="20.0"/><circle cx="2061.3" cy="753.0" r="20.0"/><circle cx="2102.7" cy="778.5" r="20.0"/><circle cx="2121.2" cy="773.1" r="20.0"/><circle cx="2051.5" cy="813.4" r="20.0"/><circle cx="2112.5" cy="837.3" r="20.0"/><circle cx="2129.9" cy="836.3" r="20.0"/><circle cx="2132.1" cy="849.3" r="20.0"/><circle cx="2101.2" cy="877.7" r="20.0"/><circle cx="2002.5" cy="882.0" r="20.0"/><circle cx="1980.7" cy="895.1" r="20.0"/><circle cx="2035.2" cy="913.6" r="20.0"/><circle cx="2257.4" cy="872.2" r="20.0"/><circle cx="2240.0" cy="897.3" r="20.0"/><circle cx="2210.1" cy="953.9" r="20.0"/><circle cx="2195.3" cy="972.4" r="20.0"/><circle cx="2008.4" cy="1096.6" r="20.0"/><circle cx="1460.9" cy="747.2" r="20.0"/><circle cx="1472.6" cy="745.7" r="20.0"/><circle cx="1450.1" cy="754.8" r="20.0"/><circle cx="1467.1" cy="752.5" r="20.0"/><circle cx="1439.7" cy="763.8" r="20.0"/><circle cx="1441.4" cy="819.4" r="20.0"/><circle cx="1452.2" cy="833.0" r="20.0"/><circle cx="1438.4" cy="830.8" r="20.0"/><circle cx="1455.5" cy="834.3" r="20.0"/><circle cx="1466.7" cy="837.0" r="20.0"/><circle cx="1405.7" cy="841.7" r="20.0"/><circle cx="1415.3" cy="845.9" r="20.0"/><circle cx="1431.8" cy="845.4" r="20.0"/><circle cx="1445.7" cy="845.7" r="20.0"/><circle cx="1460.1" cy="841.4" r="20.0"/><circle cx="1471.4" cy="843.8" r="20.0"/><circle cx="1384.1" cy="858.0" r="20.0"/><circle cx="1394.8" cy="856.3" r="20.0"/><circle cx="1410.5" cy="855.6" r="20.0"/><circle cx="1423.2" cy="854.3" r="20.0"/><circle cx="1439.4" cy="858.1" r="20.0"/><circle cx="1450.9" cy="855.5" r="20.0"/><circle cx="1469.1" cy="858.4" r="20.0"/><circle cx="1362.1" cy="862.5" r="20.0"/><circle cx="1378.9" cy="870.6" r="20.0"/><circle cx="1390.2" cy="865.0" r="20.0"/><circle cx="1406.8" cy="867.0" r="20.0"/><circle cx="1420.7" cy="868.4" r="20.0"/><circle cx="1434.2" cy="865.7" r="20.0"/><circle cx="1448.0" cy="866.0" r="20.0"/><circle cx="1459.7" cy="869.8" r="20.0"/><circle cx="1476.3" cy="865.8" r="20.0"/><circle cx="1311.6" cy="879.2" r="20.0"/><circle cx="1366.6" cy="865.5" r="20.0"/><circle cx="1374.0" cy="874.9" r="20.0"/><circle cx="1384.6" cy="882.2" r="20.0"/><circle cx="1394.5" cy="880.2" r="20.0"/><circle cx="1411.3" cy="875.8" r="20.0"/><circle cx="1425.2" cy="867.5" r="20.0"/><circle cx="1446.1" cy="872.6" r="20.0"/><circle cx="1454.0" cy="878.7" r="20.0"/><circle cx="1466.8" cy="880.3" r="20.0"/><circle cx="1291.8" cy="892.9" r="20.0"/><circle cx="1306.0" cy="891.6" r="20.0"/><circle cx="1317.4" cy="892.7" r="20.0"/><circle cx="1320.9" cy="893.1" r="20.0"/><circle cx="1354.2" cy="915.1" r="20.0"/><circle cx="1376.4" cy="892.8" r="20.0"/><circle cx="1376.8" cy="889.6" r="20.0"/><circle cx="1388.1" cy="891.5" r="20.0"/><circle cx="1401.8" cy="891.6" r="20.0"/><circle cx="1406.1" cy="886.6" r="20.0"/><circle cx="1449.4" cy="875.9" r="20.0"/><circle cx="1455.0" cy="894.4" r="20.0"/><circle cx="1460.4" cy="889.3" r="20.0"/><circle cx="1474.3" cy="891.2" r="20.0"/><circle cx="1288.0" cy="901.9" r="20.0"/><circle cx="1301.4" cy="907.0" r="20.0"/><circle cx="1314.7" cy="906.0" r="20.0"/><circle cx="1325.4" cy="907.0" r="20.0"/><circle cx="1338.6" cy="913.8" r="20.0"/><circle cx="1363.6" cy="911.4" r="20.0"/><circle cx="1371.0" cy="906.7" r="20.0"/><circle cx="1380.7" cy="903.2" r="20.0"/><circle cx="1398.8" cy="902.0" r="20.0"/><circle cx="1452.4" cy="903.1" r="20.0"/><circle cx="1467.3" cy="903.0" r="20.0"/><circle cx="1275.5" cy="914.3" r="20.0"/><circle cx="1290.0" cy="916.1" r="20.0"/><circle cx="1307.4" cy="918.6" r="20.0"/><circle cx="1318.3" cy="917.9" r="20.0"/><circle cx="1332.0" cy="916.4" r="20.0"/><circle cx="1349.1" cy="915.4" r="20.0"/><circle cx="1364.5" cy="916.5" r="20.0"/><circle cx="1376.8" cy="918.5" r="20.0"/><circle cx="1387.9" cy="919.2" r="20.0"/><circle cx="1401.6" cy="916.8" r="20.0"/><circle cx="1410.8" cy="928.8" r="20.0"/><circle cx="1443.4" cy="922.0" r="20.0"/><circle cx="1445.4" cy="917.8" r="20.0"/><circle cx="1459.9" cy="914.3" r="20.0"/><circle cx="1475.7" cy="913.5" r="20.0"/><circle cx="1259.2" cy="926.8" r="20.0"/><circle cx="1271.4" cy="931.0" r="20.0"/><circle cx="1279.0" cy="920.3" r="20.0"/><circle cx="1301.7" cy="918.3" r="20.0"/><circle cx="1310.5" cy="926.2" r="20.0"/><circle cx="1328.0" cy="927.9" r="20.0"/><circle cx="1341.4" cy="930.7" r="20.0"/><circle cx="1353.1" cy="926.7" r="20.0"/><circle cx="1370.2" cy="925.5" r="20.0"/><circle cx="1380.3" cy="927.4" r="20.0"/><circle cx="1394.9" cy="927.5" r="20.0"/><circle cx="1409.6" cy="928.8" r="20.0"/><circle cx="1426.5" cy="932.5" r="20.0"/><circle cx="1440.0" cy="928.2" r="20.0"/><circle cx="1451.1" cy="930.9" r="20.0"/><circle cx="1465.7" cy="926.2" r="20.0"/><circle cx="1163.9" cy="941.3" r="20.0"/><circle cx="1182.5" cy="942.1" r="20.0"/><circle cx="1235.7" cy="939.0" r="20.0"/><circle cx="1247.4" cy="941.3" r="20.0"/><circle cx="1264.7" cy="939.5" r="20.0"/><circle cx="1270.9" cy="941.8" r="20.0"/><circle cx="1304.0" cy="955.3" r="20.0"/><circle cx="1311.8" cy="945.8" r="20.0"/><circle cx="1317.5" cy="940.6" r="20.0"/><circle cx="1333.7" cy="938.9" r="20.0"/><circle cx="1345.6" cy="942.1" r="20.0"/><circle cx="1359.4" cy="940.7" r="20.0"/><circle cx="1378.9" cy="938.3" r="20.0"/><circle cx="1388.5" cy="941.1" r="20.0"/><circle cx="1404.3" cy="941.3" r="20.0"/><circle cx="1420.2" cy="938.5" r="20.0"/><circle cx="1431.1" cy="939.2" r="20.0"/><circle cx="1443.6" cy="942.8" r="20.0"/><circle cx="1462.0" cy="941.7" r="20.0"/><circle cx="1471.3" cy="942.5" r="20.0"/><circle cx="1188.8" cy="952.4" r="20.0"/><circle cx="1202.7" cy="952.3" r="20.0"/><circle cx="1227.6" cy="950.2" r="20.0"/><circle cx="1241.7" cy="949.8" r="20.0"/><circle cx="1256.3" cy="954.1" r="20.0"/><circle cx="1272.5" cy="954.6" r="20.0"/><circle cx="1284.0" cy="957.5" r="20.0"/><circle cx="1301.9" cy="956.6" r="20.0"/><circle cx="1315.0" cy="952.7" r="20.0"/><circle cx="1325.9" cy="953.4" r="20.0"/><circle cx="1344.1" cy="950.9" r="20.0"/><circle cx="1357.6" cy="949.7" r="20.0"/><circle cx="1367.8" cy="951.0" r="20.0"/><circle cx="1384.7" cy="955.2" r="20.0"/><circle cx="1398.8" cy="951.5" r="20.0"/><circle cx="1413.6" cy="951.5" r="20.0"/><circle cx="1423.7" cy="955.0" r="20.0"/><circle cx="1437.7" cy="951.4" r="20.0"/><circle cx="1454.3" cy="944.5" r="20.0"/><circle cx="1470.5" cy="951.0" r="20.0"/><circle cx="1207.2" cy="951.0" r="20.0"/><circle cx="1229.2" cy="962.1" r="20.0"/><circle cx="1236.7" cy="963.5" r="20.0"/><circle cx="1248.6" cy="965.4" r="20.0"/><circle cx="1261.8" cy="967.2" r="20.0"/><circle cx="1276.2" cy="961.9" r="20.0"/><circle cx="1289.9" cy="967.3" r="20.0"/><circle cx="1305.4" cy="962.5" r="20.0"/><circle cx="1317.5" cy="961.9" r="20.0"/><circle cx="1335.4" cy="965.5" r="20.0"/><circle cx="1349.5" cy="966.1" r="20.0"/><circle cx="1359.7" cy="965.2" r="20.0"/><circle cx="1375.5" cy="966.6" r="20.0"/><circle cx="1392.2" cy="967.0" r="20.0"/><circle cx="1401.7" cy="966.9" r="20.0"/><circle cx="1420.8" cy="967.4" r="20.0"/><circle cx="1429.9" cy="962.9" r="20.0"/><circle cx="1434.1" cy="956.1" r="20.0"/><circle cx="1477.4" cy="963.9" r="20.0"/><circle cx="1477.7" cy="966.5" r="20.0"/><circle cx="1190.2" cy="980.2" r="20.0"/><circle cx="1227.2" cy="985.6" r="20.0"/><circle cx="1231.6" cy="975.1" r="20.0"/><circle cx="1242.2" cy="976.4" r="20.0"/><circle cx="1254.4" cy="975.4" r="20.0"/><circle cx="1270.0" cy="978.1" r="20.0"/><circle cx="1284.5" cy="975.7" r="20.0"/><circle cx="1302.1" cy="976.8" r="20.0"/><circle cx="1315.4" cy="977.5" r="20.0"/><circle cx="1324.5" cy="976.3" r="20.0"/><circle cx="1340.9" cy="978.5" r="20.0"/><circle cx="1354.4" cy="978.0" r="20.0"/><circle cx="1369.5" cy="975.1" r="20.0"/><circle cx="1385.5" cy="974.4" r="20.0"/><circle cx="1399.2" cy="974.8" r="20.0"/><circle cx="1408.3" cy="975.0" r="20.0"/><circle cx="1426.9" cy="979.7" r="20.0"/><circle cx="1433.2" cy="978.3" r="20.0"/><circle cx="1193.4" cy="990.9" r="20.0"/><circle cx="1206.5" cy="993.5" r="20.0"/><circle cx="1222.9" cy="989.8" r="20.0"/><circle cx="1237.5" cy="988.9" r="20.0"/><circle cx="1247.9" cy="989.8" r="20.0"/><circle cx="1261.8" cy="990.7" r="20.0"/><circle cx="1279.5" cy="990.7" r="20.0"/><circle cx="1293.1" cy="988.1" r="20.0"/><circle cx="1305.7" cy="988.3" r="20.0"/><circle cx="1322.6" cy="986.5" r="20.0"/><circle cx="1336.6" cy="986.1" r="20.0"/><circle cx="1346.5" cy="987.5" r="20.0"/><circle cx="1364.7" cy="988.9" r="20.0"/><circle cx="1375.6" cy="991.2" r="20.0"/><circle cx="1388.7" cy="988.7" r="20.0"/><circle cx="1404.5" cy="990.5" r="20.0"/><circle cx="1419.8" cy="989.8" r="20.0"/><circle cx="1431.4" cy="987.9" r="20.0"/><circle cx="1439.5" cy="992.5" r="20.0"/><circle cx="1458.8" cy="1008.7" r="20.0"/><circle cx="1484.4" cy="992.2" r="20.0"/><circle cx="1188.9" cy="1001.5" r="20.0"/><circle cx="1199.0" cy="1000.8" r="20.0"/><circle cx="1217.6" cy="999.5" r="20.0"/><circle cx="1227.4" cy="999.9" r="20.0"/><circle cx="1244.5" cy="1003.1" r="20.0"/><circle cx="1255.2" cy="999.0" r="20.0"/><circle cx="1269.8" cy="1000.0" r="20.0"/><circle cx="1285.4" cy="999.0" r="20.0"/><circle cx="1298.3" cy="999.2" r="20.0"/><circle cx="1317.1" cy="996.2" r="20.0"/><circle cx="1327.4" cy="1000.6" r="20.0"/><circle cx="1338.9" cy="1000.4" r="20.0"/><circle cx="1358.2" cy="1002.8" r="20.0"/><circle cx="1370.7" cy="1000.7" r="20.0"/><circle cx="1381.5" cy="1001.9" r="20.0"/><circle cx="1394.9" cy="999.3" r="20.0"/><circle cx="1410.6" cy="998.3" r="20.0"/><circle cx="1424.7" cy="1002.8" r="20.0"/><circle cx="1440.4" cy="1001.1" r="20.0"/><circle cx="1451.3" cy="1006.4" r="20.0"/><circle cx="1466.5" cy="1008.5" r="20.0"/><circle cx="1179.7" cy="1014.6" r="20.0"/><circle cx="1196.7" cy="1012.8" r="20.0"/><circle cx="1208.7" cy="1014.7" r="20.0"/><circle cx="1221.8" cy="1011.6" r="20.0"/><circle cx="1237.6" cy="1015.5" r="20.0"/><circle cx="1251.9" cy="1014.4" r="20.0"/><circle cx="1266.4" cy="1014.3" r="20.0"/><circle cx="1279.1" cy="1012.9" r="20.0"/><circle cx="1291.2" cy="1014.0" r="20.0"/><circle cx="1294.3" cy="1007.5" r="20.0"/><circle cx="1334.0" cy="1009.1" r="20.0"/><circle cx="1335.0" cy="1010.9" r="20.0"/><circle cx="1347.8" cy="1012.9" r="20.0"/><circle cx="1363.0" cy="1012.6" r="20.0"/><circle cx="1377.3" cy="1015.8" r="20.0"/><circle cx="1388.4" cy="1014.1" r="20.0"/><circle cx="1406.0" cy="1012.5" r="20.0"/><circle cx="1418.2" cy="1016.0" r="20.0"/><circle cx="1429.5" cy="1013.4" r="20.0"/><circle cx="1444.2" cy="1014.9" r="20.0"/><circle cx="1462.9" cy="1013.3" r="20.0"/><circle cx="1471.9" cy="1013.6" r="20.0"/><circle cx="1137.2" cy="1023.8" r="20.0"/><circle cx="1160.4" cy="1008.2" r="20.0"/><circle cx="1180.8" cy="1023.5" r="20.0"/><circle cx="1186.7" cy="1028.0" r="20.0"/><circle cx="1199.5" cy="1026.4" r="20.0"/><circle cx="1214.6" cy="1026.9" r="20.0"/><circle cx="1227.0" cy="1028.2" r="20.0"/><circle cx="1242.4" cy="1022.6" r="20.0"/><circle cx="1255.9" cy="1024.7" r="20.0"/><circle cx="1268.4" cy="1024.8" r="20.0"/><circle cx="1284.8" cy="1026.5" r="20.0"/><circle cx="1293.0" cy="1025.9" r="20.0"/><circle cx="1308.5" cy="1039.7" r="20.0"/><circle cx="1344.5" cy="1011.8" r="20.0"/><circle cx="1357.1" cy="1022.2" r="20.0"/><circle cx="1367.1" cy="1027.0" r="20.0"/><circle cx="1385.1" cy="1026.1" r="20.0"/><circle cx="1397.1" cy="1025.7" r="20.0"/><circle cx="1409.6" cy="1028.1" r="20.0"/><circle cx="1424.4" cy="1026.1" r="20.0"/><circle cx="1441.2" cy="1027.2" r="20.0"/><circle cx="1453.1" cy="1024.1" r="20.0"/><circle cx="1467.6" cy="1023.1" r="20.0"/><circle cx="1126.3" cy="1036.6" r="20.0"/><circle cx="1136.7" cy="1037.0" r="20.0"/><circle cx="1139.6" cy="1043.5" r="20.0"/><circle cx="1178.4" cy="1043.7" r="20.0"/><circle cx="1180.3" cy="1040.0" r="20.0"/><circle cx="1193.0" cy="1035.9" r="20.0"/><circle cx="1207.1" cy="1037.3" r="20.0"/><circle cx="1221.9" cy="1038.3" r="20.0"/><circle cx="1237.2" cy="1036.6" r="20.0"/><circle cx="1252.9" cy="1039.6" r="20.0"/><circle cx="1261.6" cy="1039.4" r="20.0"/><circle cx="1280.7" cy="1039.1" r="20.0"/><circle cx="1290.1" cy="1039.4" r="20.0"/><circle cx="1305.4" cy="1038.7" r="20.0"/><circle cx="1316.8" cy="1040.3" r="20.0"/><circle cx="1323.5" cy="1050.0" r="20.0"/><circle cx="1359.0" cy="1039.1" r="20.0"/><circle cx="1360.7" cy="1039.1" r="20.0"/><circle cx="1375.4" cy="1035.3" r="20.0"/><circle cx="1392.7" cy="1039.2" r="20.0"/><circle cx="1402.3" cy="1039.8" r="20.0"/><circle cx="1418.9" cy="1039.1" r="20.0"/><circle cx="1433.3" cy="1039.8" r="20.0"/><circle cx="1448.0" cy="1039.5" r="20.0"/><circle cx="1472.5" cy="1038.6" r="20.0"/><circle cx="1103.5" cy="1051.0" r="20.0"/><circle cx="1116.9" cy="1051.9" r="20.0"/><circle cx="1131.6" cy="1048.1" r="20.0"/><circle cx="1143.2" cy="1047.9" r="20.0"/><circle cx="1159.3" cy="1054.2" r="20.0"/><circle cx="1174.1" cy="1048.6" r="20.0"/><circle cx="1187.2" cy="1049.5" r="20.0"/><circle cx="1201.5" cy="1051.7" r="20.0"/><circle cx="1212.3" cy="1051.6" r="20.0"/><circle cx="1229.1" cy="1049.9" r="20.0"/><circle cx="1244.3" cy="1051.6" r="20.0"/><circle cx="1256.5" cy="1049.1" r="20.0"/><circle cx="1274.0" cy="1047.0" r="20.0"/><circle cx="1286.1" cy="1050.4" r="20.0"/><circle cx="1296.5" cy="1050.2" r="20.0"/><circle cx="1314.4" cy="1052.1" r="20.0"/><circle cx="1326.3" cy="1052.4" r="20.0"/><circle cx="1342.5" cy="1054.6" r="20.0"/><circle cx="1357.7" cy="1046.8" r="20.0"/><circle cx="1370.6" cy="1050.3" r="20.0"/><circle cx="1382.3" cy="1051.7" r="20.0"/><circle cx="1396.5" cy="1049.4" r="20.0"/><circle cx="1411.4" cy="1051.2" r="20.0"/><circle cx="1423.5" cy="1049.2" r="20.0"/><circle cx="1095.8" cy="1062.0" r="20.0"/><circle cx="1112.2" cy="1060.4" r="20.0"/><circle cx="1126.3" cy="1061.1" r="20.0"/><circle cx="1138.3" cy="1060.3" r="20.0"/><circle cx="1152.3" cy="1064.5" r="20.0"/><circle cx="1167.2" cy="1063.4" r="20.0"/><circle cx="1179.3" cy="1060.6" r="20.0"/><circle cx="1193.1" cy="1062.2" r="20.0"/><circle cx="1209.1" cy="1063.4" r="20.0"/><circle cx="1219.5" cy="1063.0" r="20.0"/><circle cx="1238.6" cy="1062.0" r="20.0"/><circle cx="1247.6" cy="1060.5" r="20.0"/><circle cx="1259.3" cy="1054.4" r="20.0"/><circle cx="1283.9" cy="1058.7" r="20.0"/><circle cx="1293.2" cy="1063.4" r="20.0"/><circle cx="1308.7" cy="1062.4" r="20.0"/><circle cx="1321.0" cy="1062.4" r="20.0"/><circle cx="1335.5" cy="1062.3" r="20.0"/><circle cx="1349.4" cy="1060.0" r="20.0"/><circle cx="1363.3" cy="1061.4" r="20.0"/><circle cx="1377.9" cy="1059.3" r="20.0"/><circle cx="1388.4" cy="1058.9" r="20.0"/><circle cx="1405.9" cy="1064.2" r="20.0"/><circle cx="1076.2" cy="1073.0" r="20.0"/><circle cx="1091.2" cy="1075.5" r="20.0"/><circle cx="1103.7" cy="1072.4" r="20.0"/><circle cx="1116.1" cy="1073.3" r="20.0"/><circle cx="1130.2" cy="1073.4" r="20.0"/><circle cx="1146.1" cy="1076.4" r="20.0"/><circle cx="1156.6" cy="1074.2" r="20.0"/><circle cx="1170.5" cy="1071.5" r="20.0"/><circle cx="1189.8" cy="1070.4" r="20.0"/><circle cx="1203.8" cy="1073.5" r="20.0"/><circle cx="1212.4" cy="1073.1" r="20.0"/><circle cx="1229.8" cy="1076.4" r="20.0"/><circle cx="1243.8" cy="1073.2" r="20.0"/><circle cx="1246.3" cy="1065.9" r="20.0"/><circle cx="1283.2" cy="1058.0" r="20.0"/><circle cx="1290.6" cy="1067.7" r="20.0"/><circle cx="1296.3" cy="1074.9" r="20.0"/><circle cx="1311.5" cy="1071.4" r="20.0"/><circle cx="1324.8" cy="1076.0" r="20.0"/><circle cx="1339.1" cy="1070.9" r="20.0"/><circle cx="1356.6" cy="1072.3" r="20.0"/><circle cx="1370.7" cy="1071.9" r="20.0"/><circle cx="1380.6" cy="1075.4" r="20.0"/><circle cx="1069.6" cy="1088.1" r="20.0"/><circle cx="1083.7" cy="1083.4" r="20.0"/><circle cx="1097.1" cy="1087.2" r="20.0"/><circle cx="1110.0" cy="1088.5" r="20.0"/><circle cx="1122.8" cy="1088.7" r="20.0"/><circle cx="1139.6" cy="1083.0" r="20.0"/><circle cx="1149.4" cy="1086.8" r="20.0"/><circle cx="1164.3" cy="1080.6" r="20.0"/><circle cx="1170.3" cy="1074.7" r="20.0"/><circle cx="1202.6" cy="1076.7" r="20.0"/><circle cx="1208.2" cy="1083.3" r="20.0"/><circle cx="1221.5" cy="1086.4" r="20.0"/><circle cx="1235.9" cy="1087.0" r="20.0"/><circle cx="1246.2" cy="1088.7" r="20.0"/><circle cx="1257.3" cy="1099.5" r="20.0"/><circle cx="1307.8" cy="1071.4" r="20.0"/><circle cx="1326.9" cy="1079.7" r="20.0"/><circle cx="1331.6" cy="1088.8" r="20.0"/><circle cx="1349.5" cy="1087.9" r="20.0"/><circle cx="1361.3" cy="1086.6" r="20.0"/><circle cx="1064.1" cy="1100.0" r="20.0"/><circle cx="1075.9" cy="1096.9" r="20.0"/><circle cx="1088.9" cy="1100.4" r="20.0"/><circle cx="1102.5" cy="1099.2" r="20.0"/><circle cx="1117.9" cy="1100.4" r="20.0"/><circle cx="1133.1" cy="1096.8" r="20.0"/><circle cx="1142.3" cy="1096.6" r="20.0"/><circle cx="1158.8" cy="1098.6" r="20.0"/><circle cx="1161.6" cy="1106.5" r="20.0"/><circle cx="1181.1" cy="1121.5" r="20.0"/><circle cx="1210.4" cy="1102.0" r="20.0"/><circle cx="1215.7" cy="1096.7" r="20.0"/><circle cx="1231.4" cy="1099.9" r="20.0"/><circle cx="1244.4" cy="1100.5" r="20.0"/><circle cx="1254.8" cy="1098.1" r="20.0"/><circle cx="1271.9" cy="1101.6" r="20.0"/><circle cx="1283.5" cy="1099.6" r="20.0"/><circle cx="1288.4" cy="1101.4" r="20.0"/><circle cx="1323.8" cy="1110.9" r="20.0"/><circle cx="1331.6" cy="1096.9" r="20.0"/><circle cx="1339.8" cy="1099.6" r="20.0"/><circle cx="1042.0" cy="1109.9" r="20.0"/><circle cx="1051.8" cy="1112.0" r="20.0"/><circle cx="1069.9" cy="1108.6" r="20.0"/><circle cx="1082.8" cy="1112.6" r="20.0"/><circle cx="1098.6" cy="1110.3" r="20.0"/><circle cx="1110.1" cy="1110.7" r="20.0"/><circle cx="1122.4" cy="1108.3" r="20.0"/><circle cx="1136.4" cy="1111.4" r="20.0"/><circle cx="1151.5" cy="1110.6" r="20.0"/><circle cx="1164.4" cy="1111.3" r="20.0"/><circle cx="1171.8" cy="1118.0" r="20.0"/><circle cx="1202.4" cy="1115.2" r="20.0"/><circle cx="1205.9" cy="1111.0" r="20.0"/><circle cx="1224.0" cy="1108.1" r="20.0"/><circle cx="1236.9" cy="1109.2" r="20.0"/><circle cx="1250.4" cy="1107.3" r="20.0"/><circle cx="1261.5" cy="1113.1" r="20.0"/><circle cx="1280.5" cy="1110.1" r="20.0"/><circle cx="1292.7" cy="1108.7" r="20.0"/><circle cx="1307.4" cy="1116.0" r="20.0"/><circle cx="1323.0" cy="1111.8" r="20.0"/><circle cx="1007.2" cy="1125.1" r="20.0"/><circle cx="1017.8" cy="1119.5" r="20.0"/><circle cx="1031.5" cy="1120.4" r="20.0"/><circle cx="1044.8" cy="1119.6" r="20.0"/><circle cx="1061.6" cy="1124.5" r="20.0"/><circle cx="1075.0" cy="1125.0" r="20.0"/><circle cx="1091.7" cy="1119.7" r="20.0"/><circle cx="1103.9" cy="1121.7" r="20.0"/><circle cx="1115.0" cy="1125.1" r="20.0"/><circle cx="1129.8" cy="1122.7" r="20.0"/><circle cx="1146.1" cy="1125.0" r="20.0"/><circle cx="1160.3" cy="1121.7" r="20.0"/><circle cx="1173.0" cy="1120.3" r="20.0"/><circle cx="1190.1" cy="1125.3" r="20.0"/><circle cx="1199.6" cy="1119.5" r="20.0"/><circle cx="1213.8" cy="1121.4" r="20.0"/><circle cx="1259.7" cy="1124.7" r="20.0"/><circle cx="1273.3" cy="1119.6" r="20.0"/><circle cx="1287.0" cy="1123.6" r="20.0"/><circle cx="1300.2" cy="1125.2" r="20.0"/><circle cx="1310.6" cy="1120.2" r="20.0"/><circle cx="999.8" cy="1137.1" r="20.0"/><circle cx="1013.3" cy="1133.2" r="20.0"/><circle cx="1026.8" cy="1136.0" r="20.0"/><circle cx="1037.9" cy="1133.4" r="20.0"/><circle cx="1052.8" cy="1132.2" r="20.0"/><circle cx="1068.2" cy="1132.4" r="20.0"/><circle cx="1080.7" cy="1132.3" r="20.0"/><circle cx="1097.4" cy="1131.5" r="20.0"/><circle cx="1111.6" cy="1132.6" r="20.0"/><circle cx="1121.5" cy="1137.0" r="20.0"/><circle cx="1136.6" cy="1137.0" r="20.0"/><circle cx="1154.5" cy="1136.8" r="20.0"/><circle cx="1164.1" cy="1134.1" r="20.0"/><circle cx="1177.9" cy="1137.0" r="20.0"/><circle cx="1196.3" cy="1135.2" r="20.0"/><circle cx="1278.0" cy="1133.5" r="20.0"/><circle cx="1294.2" cy="1134.3" r="20.0"/><circle cx="1006.1" cy="1144.4" r="20.0"/><circle cx="1017.6" cy="1143.9" r="20.0"/><circle cx="1034.6" cy="1146.9" r="20.0"/><circle cx="1045.2" cy="1148.8" r="20.0"/><circle cx="1059.9" cy="1146.0" r="20.0"/><circle cx="1073.2" cy="1145.2" r="20.0"/><circle cx="1091.3" cy="1145.6" r="20.0"/><circle cx="1101.3" cy="1146.5" r="20.0"/><circle cx="1117.1" cy="1145.0" r="20.0"/><circle cx="1129.0" cy="1149.4" r="20.0"/><circle cx="1142.6" cy="1148.9" r="20.0"/><circle cx="1160.3" cy="1144.8" r="20.0"/><circle cx="1173.1" cy="1145.3" r="20.0"/><circle cx="1185.8" cy="1144.8" r="20.0"/><circle cx="1284.5" cy="1149.5" r="20.0"/><circle cx="1001.3" cy="1161.2" r="20.0"/><circle cx="1009.9" cy="1157.4" r="20.0"/><circle cx="1028.7" cy="1156.0" r="20.0"/><circle cx="1041.6" cy="1157.4" r="20.0"/><circle cx="1057.2" cy="1155.8" r="20.0"/><circle cx="1070.1" cy="1157.7" r="20.0"/><circle cx="1080.1" cy="1155.7" r="20.0"/><circle cx="1091.7" cy="1153.2" r="20.0"/><circle cx="1105.3" cy="1145.0" r="20.0"/><circle cx="1130.9" cy="1153.6" r="20.0"/><circle cx="1138.7" cy="1156.5" r="20.0"/><circle cx="1150.4" cy="1160.3" r="20.0"/><circle cx="1167.6" cy="1156.9" r="20.0"/><circle cx="1177.8" cy="1156.2" r="20.0"/><circle cx="1005.9" cy="1170.8" r="20.0"/><circle cx="1017.9" cy="1169.0" r="20.0"/><circle cx="1034.0" cy="1172.0" r="20.0"/><circle cx="1049.2" cy="1171.3" r="20.0"/><circle cx="1059.5" cy="1168.2" r="20.0"/><circle cx="1076.7" cy="1170.2" r="20.0"/><circle cx="1085.6" cy="1167.7" r="20.0"/><circle cx="1085.5" cy="1169.3" r="20.0"/><circle cx="1135.2" cy="1178.8" r="20.0"/><circle cx="1136.6" cy="1167.3" r="20.0"/><circle cx="1147.7" cy="1170.7" r="20.0"/><circle cx="1161.5" cy="1169.4" r="20.0"/><circle cx="1171.4" cy="1172.8" r="20.0"/><circle cx="1186.5" cy="1168.8" r="20.0"/><circle cx="997.5" cy="1183.5" r="20.0"/><circle cx="1009.3" cy="1183.0" r="20.0"/><circle cx="1026.0" cy="1183.0" r="20.0"/><circle cx="1038.0" cy="1184.2" r="20.0"/><circle cx="1056.2" cy="1185.1" r="20.0"/><circle cx="1067.2" cy="1184.2" r="20.0"/><circle cx="1081.6" cy="1184.4" r="20.0"/><circle cx="1091.7" cy="1186.8" r="20.0"/><circle cx="1114.8" cy="1195.4" r="20.0"/><circle cx="1129.3" cy="1188.0" r="20.0"/><circle cx="1138.5" cy="1180.0" r="20.0"/><circle cx="1155.1" cy="1181.3" r="20.0"/><circle cx="1164.4" cy="1180.5" r="20.0"/><circle cx="1178.8" cy="1184.8" r="20.0"/><circle cx="1002.5" cy="1192.6" r="20.0"/><circle cx="1020.5" cy="1193.2" r="20.0"/><circle cx="1030.4" cy="1195.6" r="20.0"/><circle cx="1047.7" cy="1195.2" r="20.0"/><circle cx="1062.5" cy="1192.7" r="20.0"/><circle cx="1077.5" cy="1196.3" r="20.0"/><circle cx="1086.6" cy="1192.8" r="20.0"/><circle cx="1103.2" cy="1195.1" r="20.0"/><circle cx="1116.5" cy="1195.1" r="20.0"/><circle cx="1130.7" cy="1192.9" r="20.0"/><circle cx="1146.4" cy="1196.3" r="20.0"/><circle cx="1157.2" cy="1195.5" r="20.0"/><circle cx="999.8" cy="1205.2" r="20.0"/><circle cx="1014.2" cy="1209.8" r="20.0"/><circle cx="1025.6" cy="1206.7" r="20.0"/><circle cx="1042.3" cy="1207.3" r="20.0"/><circle cx="1053.7" cy="1209.8" r="20.0"/><circle cx="1006.9" cy="1218.3" r="20.0"/><circle cx="1017.7" cy="1218.3" r="20.0"/><circle cx="1032.9" cy="1222.2" r="20.0"/><circle cx="1049.1" cy="1221.8" r="20.0"/><circle cx="1000.2" cy="1233.5" r="20.0"/><circle cx="1009.6" cy="1231.5" r="20.0"/><circle cx="1029.0" cy="1234.0" r="20.0"/><circle cx="1003.8" cy="1243.1" r="20.0"/><circle cx="1020.1" cy="1242.7" r="20.0"/><circle cx="998.5" cy="1253.1" r="20.0"/><circle cx="1011.9" cy="1255.7" r="20.0"/><circle cx="1002.4" cy="1265.6" r="20.0"/><circle cx="1001.1" cy="1281.6" r="20.0"/><circle cx="1000.0" cy="1109.6" r="20.0"/><circle cx="1024.0" cy="1104.6" r="20.0"/><circle cx="1054.5" cy="1087.2" r="20.0"/><circle cx="1071.9" cy="1066.0" r="20.0"/><circle cx="1087.2" cy="1046.9" r="20.0"/><circle cx="1122.0" cy="1026.8" r="20.0"/><circle cx="1144.5" cy="1013.3" r="20.0"/><circle cx="1169.9" cy="1005.0" r="20.0"/><circle cx="1189.6" cy="983.2" r="20.0"/><circle cx="1187.4" cy="961.5" r="20.0"/><circle cx="1153.6" cy="941.9" r="20.0"/><circle cx="1174.3" cy="917.9" r="20.0"/><circle cx="1196.1" cy="935.3" r="20.0"/><circle cx="1209.2" cy="948.4" r="20.0"/><circle cx="1226.6" cy="937.5" r="20.0"/><circle cx="1245.1" cy="920.1" r="20.0"/><circle cx="1272.4" cy="904.8" r="20.0"/><circle cx="1289.8" cy="880.8" r="20.0"/><circle cx="1318.1" cy="869.9" r="20.0"/><circle cx="1323.3" cy="874.7" r="20.0"/><circle cx="1356.2" cy="859.1" r="20.0"/><circle cx="1374.8" cy="852.5" r="20.0"/><circle cx="1392.2" cy="835.1" r="20.0"/><circle cx="1414.0" cy="832.9" r="20.0"/><circle cx="1427.1" cy="822.0" r="20.0"/><circle cx="1433.6" cy="804.6" r="20.0"/><circle cx="1438.9" cy="792.9" r="20.0"/><circle cx="1430.3" cy="771.9" r="20.0"/><circle cx="1436.9" cy="753.4" r="20.0"/><circle cx="1453.2" cy="739.2" r="20.0"/><circle cx="1464.1" cy="732.7" r="20.0"/><circle cx="1489.5" cy="680.4" r="20.0"/><circle cx="1486.5" cy="1049.7" r="20.0"/><circle cx="1457.6" cy="1041.4" r="20.0"/><circle cx="1422.7" cy="1062.1" r="20.0"/><circle cx="1381.3" cy="1089.4" r="20.0"/><circle cx="1333.4" cy="1113.3" r="20.0"/><circle cx="1307.2" cy="1139.5" r="20.0"/><circle cx="1275.6" cy="1165.6" r="20.0"/><circle cx="1268.0" cy="1141.7" r="20.0"/><circle cx="1239.7" cy="1122.0" r="20.0"/><circle cx="1203.7" cy="1135.1" r="20.0"/><circle cx="1190.6" cy="1189.6" r="20.0"/><circle cx="1156.9" cy="1205.9" r="20.0"/><circle cx="1104.6" cy="1204.8" r="20.0"/><circle cx="1071.9" cy="1204.8" r="20.0"/><circle cx="1041.4" cy="1235.3" r="20.0"/><circle cx="1015.3" cy="1274.6" r="20.0"/><circle cx="991.3" cy="1307.2" r="20.0"/><circle cx="991.3" cy="1109.6" r="20.0"/><circle cx="1314.8" cy="812.2" r="20.0"/><circle cx="1008.7" cy="1048.6" r="20.0"/><circle cx="1028.3" cy="1046.4" r="20.0"/><circle cx="1076.3" cy="1257.1" r="20.0"/><circle cx="1135.1" cy="1237.5" r="20.0"/><circle cx="1168.9" cy="1263.6" r="20.0"/><circle cx="1247.3" cy="1191.7" r="20.0"/><circle cx="1350.8" cy="1172.1" r="20.0"/><circle cx="1370.4" cy="1161.2" r="20.0"/><circle cx="1390.0" cy="1159.1" r="20.0"/><circle cx="953.6" cy="1142.0" r="20.0"/><circle cx="964.9" cy="1143.5" r="20.0"/><circle cx="977.3" cy="1138.4" r="20.0"/><circle cx="999.8" cy="1139.8" r="20.0"/><circle cx="946.1" cy="1150.2" r="20.0"/><circle cx="957.3" cy="1154.1" r="20.0"/><circle cx="969.7" cy="1150.1" r="20.0"/><circle cx="981.1" cy="1151.2" r="20.0"/><circle cx="995.7" cy="1150.3" r="20.0"/><circle cx="937.8" cy="1162.8" r="20.0"/><circle cx="948.7" cy="1162.5" r="20.0"/><circle cx="965.7" cy="1162.0" r="20.0"/><circle cx="973.6" cy="1161.8" r="20.0"/><circle cx="987.2" cy="1159.9" r="20.0"/><circle cx="996.7" cy="1159.7" r="20.0"/><circle cx="871.8" cy="1171.8" r="20.0"/><circle cx="919.7" cy="1170.8" r="20.0"/><circle cx="930.5" cy="1172.6" r="20.0"/><circle cx="947.0" cy="1173.0" r="20.0"/><circle cx="957.4" cy="1173.3" r="20.0"/><circle cx="967.2" cy="1173.6" r="20.0"/><circle cx="980.8" cy="1172.6" r="20.0"/><circle cx="993.7" cy="1172.2" r="20.0"/><circle cx="877.9" cy="1181.2" r="20.0"/><circle cx="913.3" cy="1182.8" r="20.0"/><circle cx="926.3" cy="1183.3" r="20.0"/><circle cx="936.1" cy="1181.9" r="20.0"/><circle cx="953.2" cy="1181.2" r="20.0"/><circle cx="963.3" cy="1182.7" r="20.0"/><circle cx="973.7" cy="1185.7" r="20.0"/><circle cx="985.8" cy="1184.4" r="20.0"/><circle cx="997.0" cy="1180.1" r="20.0"/><circle cx="875.2" cy="1192.8" r="20.0"/><circle cx="882.4" cy="1192.5" r="20.0"/><circle cx="896.6" cy="1194.5" r="20.0"/><circle cx="906.7" cy="1191.5" r="20.0"/><circle cx="923.8" cy="1194.6" r="20.0"/><circle cx="930.9" cy="1192.2" r="20.0"/><circle cx="944.1" cy="1194.2" r="20.0"/><circle cx="957.7" cy="1195.2" r="20.0"/><circle cx="970.9" cy="1193.2" r="20.0"/><circle cx="982.4" cy="1194.6" r="20.0"/><circle cx="994.6" cy="1193.0" r="20.0"/><circle cx="868.7" cy="1204.8" r="20.0"/><circle cx="881.5" cy="1201.3" r="20.0"/><circle cx="893.2" cy="1200.6" r="20.0"/><circle cx="904.6" cy="1204.0" r="20.0"/><circle cx="915.0" cy="1206.3" r="20.0"/><circle cx="927.4" cy="1203.0" r="20.0"/><circle cx="940.7" cy="1205.8" r="20.0"/><circle cx="951.6" cy="1202.8" r="20.0"/><circle cx="962.7" cy="1203.3" r="20.0"/><circle cx="976.3" cy="1202.3" r="20.0"/><circle cx="986.3" cy="1203.9" r="20.0"/><circle cx="998.3" cy="1202.5" r="20.0"/><circle cx="850.7" cy="1216.0" r="20.0"/><circle cx="861.0" cy="1213.6" r="20.0"/><circle cx="871.1" cy="1212.7" r="20.0"/><circle cx="882.9" cy="1214.4" r="20.0"/><circle cx="897.5" cy="1211.4" r="20.0"/><circle cx="911.5" cy="1212.9" r="20.0"/><circle cx="923.1" cy="1215.9" r="20.0"/><circle cx="935.8" cy="1212.1" r="20.0"/><circle cx="944.6" cy="1216.4" r="20.0"/><circle cx="954.1" cy="1211.2" r="20.0"/><circle cx="969.4" cy="1213.9" r="20.0"/><circle cx="983.5" cy="1215.6" r="20.0"/><circle cx="993.2" cy="1216.9" r="20.0"/><circle cx="843.1" cy="1224.4" r="20.0"/><circle cx="856.1" cy="1223.6" r="20.0"/><circle cx="866.1" cy="1224.9" r="20.0"/><circle cx="878.1" cy="1227.0" r="20.0"/><circle cx="892.1" cy="1224.5" r="20.0"/><circle cx="900.6" cy="1223.6" r="20.0"/><circle cx="914.4" cy="1224.7" r="20.0"/><circle cx="927.4" cy="1226.6" r="20.0"/><circle cx="941.8" cy="1224.2" r="20.0"/><circle cx="950.6" cy="1225.1" r="20.0"/><circle cx="966.0" cy="1223.4" r="20.0"/><circle cx="975.2" cy="1226.2" r="20.0"/><circle cx="985.0" cy="1223.2" r="20.0"/><circle cx="1001.9" cy="1226.3" r="20.0"/><circle cx="825.1" cy="1232.4" r="20.0"/><circle cx="839.4" cy="1235.8" r="20.0"/><circle cx="850.9" cy="1237.6" r="20.0"/><circle cx="863.3" cy="1234.2" r="20.0"/><circle cx="870.9" cy="1233.4" r="20.0"/><circle cx="885.1" cy="1234.7" r="20.0"/><circle cx="895.1" cy="1232.8" r="20.0"/><circle cx="909.8" cy="1235.3" r="20.0"/><circle cx="920.1" cy="1237.7" r="20.0"/><circle cx="933.8" cy="1232.0" r="20.0"/><circle cx="944.5" cy="1236.4" r="20.0"/><circle cx="955.8" cy="1235.8" r="20.0"/><circle cx="966.0" cy="1233.5" r="20.0"/><circle cx="983.1" cy="1235.2" r="20.0"/><circle cx="994.0" cy="1232.9" r="20.0"/><circle cx="819.0" cy="1245.4" r="20.0"/><circle cx="829.6" cy="1246.0" r="20.0"/><circle cx="843.2" cy="1248.1" r="20.0"/><circle cx="855.4" cy="1244.6" r="20.0"/><circle cx="864.7" cy="1243.0" r="20.0"/><circle cx="880.6" cy="1242.7" r="20.0"/><circle cx="888.6" cy="1243.1" r="20.0"/><circle cx="903.1" cy="1247.0" r="20.0"/><circle cx="915.7" cy="1246.9" r="20.0"/><circle cx="924.4" cy="1242.2" r="20.0"/><circle cx="940.6" cy="1244.0" r="20.0"/><circle cx="952.3" cy="1244.2" r="20.0"/><circle cx="961.0" cy="1243.7" r="20.0"/><circle cx="972.6" cy="1247.5" r="20.0"/><circle cx="987.5" cy="1244.2" r="20.0"/><circle cx="998.7" cy="1244.4" r="20.0"/><circle cx="798.3" cy="1257.8" r="20.0"/><circle cx="813.5" cy="1258.2" r="20.0"/><circle cx="824.6" cy="1256.2" r="20.0"/><circle cx="835.5" cy="1252.8" r="20.0"/><circle cx="851.6" cy="1257.6" r="20.0"/><circle cx="859.9" cy="1257.9" r="20.0"/><circle cx="874.9" cy="1254.3" r="20.0"/><circle cx="885.6" cy="1258.2" r="20.0"/><circle cx="897.0" cy="1258.2" r="20.0"/><circle cx="907.5" cy="1254.8" r="20.0"/><circle cx="922.3" cy="1253.8" r="20.0"/><circle cx="931.9" cy="1257.7" r="20.0"/><circle cx="944.9" cy="1257.2" r="20.0"/><circle cx="955.5" cy="1253.5" r="20.0"/><circle cx="968.2" cy="1253.6" r="20.0"/><circle cx="983.8" cy="1254.2" r="20.0"/><circle cx="993.4" cy="1253.2" r="20.0"/><circle cx="783.2" cy="1265.2" r="20.0"/><circle cx="794.4" cy="1263.3" r="20.0"/><circle cx="804.7" cy="1267.8" r="20.0"/><circle cx="818.1" cy="1264.3" r="20.0"/><circle cx="829.1" cy="1264.6" r="20.0"/><circle cx="841.4" cy="1263.1" r="20.0"/><circle cx="856.0" cy="1264.9" r="20.0"/><circle cx="864.9" cy="1267.1" r="20.0"/><circle cx="876.6" cy="1264.5" r="20.0"/><circle cx="893.0" cy="1263.6" r="20.0"/><circle cx="902.7" cy="1267.9" r="20.0"/><circle cx="916.8" cy="1263.8" r="20.0"/><circle cx="926.5" cy="1265.6" r="20.0"/><circle cx="938.3" cy="1268.6" r="20.0"/><circle cx="949.2" cy="1268.6" r="20.0"/><circle cx="963.0" cy="1264.2" r="20.0"/><circle cx="974.7" cy="1263.7" r="20.0"/><circle cx="988.2" cy="1264.4" r="20.0"/><circle cx="1001.4" cy="1266.4" r="20.0"/><circle cx="764.2" cy="1274.7" r="20.0"/><circle cx="777.6" cy="1274.5" r="20.0"/><circle cx="791.2" cy="1274.0" r="20.0"/><circle cx="801.1" cy="1276.5" r="20.0"/><circle cx="811.6" cy="1277.9" r="20.0"/><circle cx="824.3" cy="1277.2" r="20.0"/><circle cx="837.4" cy="1275.1" r="20.0"/><circle cx="848.3" cy="1273.8" r="20.0"/><circle cx="859.1" cy="1278.4" r="20.0"/><circle cx="871.9" cy="1277.2" r="20.0"/><circle cx="882.7" cy="1276.6" r="20.0"/><circle cx="896.2" cy="1276.3" r="20.0"/><circle cx="905.0" cy="1270.0" r="20.0"/><circle cx="919.7" cy="1264.8" r="20.0"/><circle cx="936.5" cy="1270.9" r="20.0"/><circle cx="943.7" cy="1275.7" r="20.0"/><circle cx="959.5" cy="1277.9" r="20.0"/><circle cx="971.3" cy="1278.4" r="20.0"/><circle cx="978.8" cy="1274.9" r="20.0"/><circle cx="990.2" cy="1277.3" r="20.0"/><circle cx="760.0" cy="1285.8" r="20.0"/><circle cx="770.5" cy="1287.6" r="20.0"/><circle cx="784.2" cy="1285.2" r="20.0"/><circle cx="797.1" cy="1285.8" r="20.0"/><circle cx="807.8" cy="1284.8" r="20.0"/><circle cx="816.7" cy="1289.1" r="20.0"/><circle cx="832.4" cy="1287.9" r="20.0"/><circle cx="840.2" cy="1283.9" r="20.0"/><circle cx="853.0" cy="1284.9" r="20.0"/><circle cx="865.8" cy="1285.9" r="20.0"/><circle cx="876.2" cy="1285.5" r="20.0"/><circle cx="891.8" cy="1284.7" r="20.0"/><circle cx="895.6" cy="1285.4" r="20.0"/><circle cx="904.0" cy="1270.7" r="20.0"/><circle cx="944.0" cy="1282.3" r="20.0"/><circle cx="943.9" cy="1281.7" r="20.0"/><circle cx="953.0" cy="1288.3" r="20.0"/><circle cx="961.7" cy="1283.9" r="20.0"/><circle cx="977.1" cy="1287.3" r="20.0"/><circle cx="984.3" cy="1285.1" r="20.0"/><circle cx="996.7" cy="1288.4" r="20.0"/><circle cx="751.3" cy="1299.5" r="20.0"/><circle cx="766.5" cy="1294.6" r="20.0"/><circle cx="778.2" cy="1296.4" r="20.0"/><circle cx="790.5" cy="1299.0" r="20.0"/><circle cx="799.7" cy="1294.6" r="20.0"/><circle cx="815.7" cy="1296.6" r="20.0"/><circle cx="827.6" cy="1298.2" r="20.0"/><circle cx="833.7" cy="1295.6" r="20.0"/><circle cx="847.4" cy="1286.5" r="20.0"/><circle cx="863.3" cy="1288.4" r="20.0"/><circle cx="896.6" cy="1297.1" r="20.0"/><circle cx="898.6" cy="1302.4" r="20.0"/><circle cx="931.8" cy="1311.9" r="20.0"/><circle cx="958.2" cy="1298.9" r="20.0"/><circle cx="967.6" cy="1297.3" r="20.0"/><circle cx="983.8" cy="1297.9" r="20.0"/><circle cx="993.3" cy="1295.6" r="20.0"/><circle cx="744.4" cy="1306.6" r="20.0"/><circle cx="758.5" cy="1305.7" r="20.0"/><circle cx="769.9" cy="1305.3" r="20.0"/><circle cx="784.2" cy="1308.5" r="20.0"/><circle cx="793.4" cy="1305.9" r="20.0"/><circle cx="807.1" cy="1307.1" r="20.0"/><circle cx="821.6" cy="1306.6" r="20.0"/><circle cx="829.2" cy="1309.8" r="20.0"/><circle cx="829.4" cy="1306.3" r="20.0"/><circle cx="876.2" cy="1308.3" r="20.0"/><circle cx="975.3" cy="1309.0" r="20.0"/><circle cx="703.0" cy="1318.8" r="20.0"/><circle cx="717.6" cy="1317.6" r="20.0"/><circle cx="730.6" cy="1319.8" r="20.0"/><circle cx="738.7" cy="1316.6" r="20.0"/><circle cx="752.2" cy="1316.1" r="20.0"/><circle cx="762.4" cy="1316.5" r="20.0"/><circle cx="775.2" cy="1319.0" r="20.0"/><circle cx="788.7" cy="1315.5" r="20.0"/><circle cx="799.9" cy="1317.7" r="20.0"/><circle cx="812.2" cy="1315.8" r="20.0"/><circle cx="822.4" cy="1314.9" r="20.0"/><circle cx="834.2" cy="1323.9" r="20.0"/><circle cx="684.5" cy="1329.5" r="20.0"/><circle cx="701.9" cy="1328.6" r="20.0"/><circle cx="708.7" cy="1328.2" r="20.0"/><circle cx="722.6" cy="1326.4" r="20.0"/><circle cx="735.3" cy="1325.3" r="20.0"/><circle cx="749.5" cy="1329.1" r="20.0"/><circle cx="759.8" cy="1330.8" r="20.0"/><circle cx="771.9" cy="1326.7" r="20.0"/><circle cx="781.5" cy="1326.1" r="20.0"/><circle cx="792.2" cy="1329.9" r="20.0"/><circle cx="809.0" cy="1327.0" r="20.0"/><circle cx="817.1" cy="1329.1" r="20.0"/><circle cx="833.1" cy="1330.8" r="20.0"/><circle cx="679.0" cy="1340.3" r="20.0"/><circle cx="695.0" cy="1340.1" r="20.0"/><circle cx="704.0" cy="1336.7" r="20.0"/><circle cx="719.0" cy="1337.5" r="20.0"/><circle cx="728.2" cy="1338.9" r="20.0"/><circle cx="740.2" cy="1340.6" r="20.0"/><circle cx="751.4" cy="1335.9" r="20.0"/><circle cx="765.4" cy="1339.4" r="20.0"/><circle cx="778.9" cy="1339.9" r="20.0"/><circle cx="791.4" cy="1341.3" r="20.0"/><circle cx="801.0" cy="1338.6" r="20.0"/><circle cx="810.9" cy="1337.4" r="20.0"/><circle cx="663.5" cy="1346.5" r="20.0"/><circle cx="676.1" cy="1347.0" r="20.0"/><circle cx="686.7" cy="1351.8" r="20.0"/><circle cx="696.5" cy="1346.3" r="20.0"/><circle cx="710.6" cy="1347.2" r="20.0"/><circle cx="724.3" cy="1346.0" r="20.0"/><circle cx="737.0" cy="1351.1" r="20.0"/><circle cx="748.7" cy="1348.6" r="20.0"/><circle cx="757.7" cy="1350.0" r="20.0"/><circle cx="771.1" cy="1348.5" r="20.0"/><circle cx="782.0" cy="1348.6" r="20.0"/><circle cx="658.0" cy="1361.4" r="20.0"/><circle cx="671.4" cy="1357.4" r="20.0"/><circle cx="679.8" cy="1359.1" r="20.0"/><circle cx="693.4" cy="1358.5" r="20.0"/><circle cx="703.2" cy="1356.9" r="20.0"/><circle cx="715.9" cy="1359.2" r="20.0"/><circle cx="731.8" cy="1361.9" r="20.0"/><circle cx="743.2" cy="1362.3" r="20.0"/><circle cx="755.8" cy="1360.1" r="20.0"/><circle cx="640.9" cy="1367.2" r="20.0"/><circle cx="652.1" cy="1370.5" r="20.0"/><circle cx="661.8" cy="1370.2" r="20.0"/><circle cx="677.7" cy="1369.7" r="20.0"/><circle cx="687.9" cy="1368.6" r="20.0"/><circle cx="698.1" cy="1372.1" r="20.0"/><circle cx="708.2" cy="1367.9" r="20.0"/><circle cx="724.1" cy="1369.5" r="20.0"/><circle cx="732.5" cy="1370.8" r="20.0"/><circle cx="746.2" cy="1370.3" r="20.0"/><circle cx="620.5" cy="1380.4" r="20.0"/><circle cx="633.4" cy="1379.6" r="20.0"/><circle cx="642.7" cy="1378.3" r="20.0"/><circle cx="659.3" cy="1380.5" r="20.0"/><circle cx="666.7" cy="1382.4" r="20.0"/><circle cx="679.5" cy="1377.8" r="20.0"/><circle cx="693.2" cy="1378.7" r="20.0"/><circle cx="704.9" cy="1380.5" r="20.0"/><circle cx="715.4" cy="1380.6" r="20.0"/><circle cx="726.7" cy="1380.3" r="20.0"/><circle cx="741.5" cy="1377.7" r="20.0"/><circle cx="602.4" cy="1388.0" r="20.0"/><circle cx="614.6" cy="1392.8" r="20.0"/><circle cx="627.3" cy="1391.9" r="20.0"/><circle cx="640.5" cy="1388.3" r="20.0"/><circle cx="653.9" cy="1391.9" r="20.0"/><circle cx="660.6" cy="1392.6" r="20.0"/><circle cx="674.4" cy="1388.6" r="20.0"/><circle cx="689.8" cy="1391.0" r="20.0"/><circle cx="700.6" cy="1388.4" r="20.0"/><circle cx="712.7" cy="1387.9" r="20.0"/><circle cx="721.4" cy="1389.8" r="20.0"/><circle cx="732.1" cy="1391.1" r="20.0"/><circle cx="595.3" cy="1399.8" r="20.0"/><circle cx="610.2" cy="1400.5" r="20.0"/><circle cx="623.3" cy="1401.7" r="20.0"/><circle cx="635.2" cy="1401.4" r="20.0"/><circle cx="647.5" cy="1403.2" r="20.0"/><circle cx="655.0" cy="1402.4" r="20.0"/><circle cx="668.0" cy="1402.6" r="20.0"/><circle cx="682.1" cy="1402.9" r="20.0"/><circle cx="690.7" cy="1400.2" r="20.0"/><circle cx="706.4" cy="1403.7" r="20.0"/><circle cx="718.3" cy="1398.2" r="20.0"/><circle cx="729.6" cy="1398.6" r="20.0"/><circle cx="567.3" cy="1413.2" r="20.0"/><circle cx="576.7" cy="1413.9" r="20.0"/><circle cx="592.1" cy="1409.9" r="20.0"/><circle cx="601.2" cy="1411.0" r="20.0"/><circle cx="617.0" cy="1411.9" r="20.0"/><circle cx="624.7" cy="1408.5" r="20.0"/><circle cx="636.7" cy="1413.2" r="20.0"/><circle cx="649.1" cy="1411.7" r="20.0"/><circle cx="661.7" cy="1412.5" r="20.0"/><circle cx="674.3" cy="1409.2" r="20.0"/><circle cx="551.3" cy="1422.0" r="20.0"/><circle cx="562.1" cy="1423.6" r="20.0"/><circle cx="575.7" cy="1418.8" r="20.0"/><circle cx="584.1" cy="1419.7" r="20.0"/><circle cx="597.0" cy="1424.0" r="20.0"/><circle cx="610.8" cy="1419.0" r="20.0"/><circle cx="619.1" cy="1423.7" r="20.0"/><circle cx="634.1" cy="1421.1" r="20.0"/><circle cx="656.9" cy="1419.7" r="20.0"/><circle cx="671.1" cy="1421.1" r="20.0"/><circle cx="545.2" cy="1432.8" r="20.0"/><circle cx="552.5" cy="1431.1" r="20.0"/><circle cx="565.3" cy="1434.5" r="20.0"/><circle cx="579.5" cy="1429.4" r="20.0"/><circle cx="589.0" cy="1431.3" r="20.0"/><circle cx="602.8" cy="1432.6" r="20.0"/><circle cx="512.3" cy="1441.7" r="20.0"/><circle cx="522.0" cy="1443.0" r="20.0"/><circle cx="536.0" cy="1439.7" r="20.0"/><circle cx="548.8" cy="1445.5" r="20.0"/><circle cx="558.3" cy="1440.4" r="20.0"/><circle cx="574.0" cy="1441.2" r="20.0"/><circle cx="583.6" cy="1442.5" r="20.0"/><circle cx="505.6" cy="1453.3" r="20.0"/><circle cx="519.2" cy="1455.7" r="20.0"/><circle cx="534.0" cy="1450.1" r="20.0"/><circle cx="543.4" cy="1454.6" r="20.0"/><circle cx="557.2" cy="1454.6" r="20.0"/><circle cx="567.8" cy="1453.7" r="20.0"/><circle cx="488.2" cy="1462.0" r="20.0"/><circle cx="502.8" cy="1465.6" r="20.0"/><circle cx="515.6" cy="1464.4" r="20.0"/><circle cx="523.8" cy="1464.9" r="20.0"/><circle cx="538.4" cy="1463.4" r="20.0"/><circle cx="483.8" cy="1472.8" r="20.0"/><circle cx="495.3" cy="1473.2" r="20.0"/><circle cx="504.4" cy="1472.7" r="20.0"/><circle cx="517.9" cy="1476.7" r="20.0"/><circle cx="464.9" cy="1483.3" r="20.0"/><circle cx="475.5" cy="1482.5" r="20.0"/><circle cx="488.1" cy="1481.9" r="20.0"/><circle cx="444.0" cy="1496.7" r="20.0"/><circle cx="458.7" cy="1494.2" r="20.0"/><circle cx="471.4" cy="1493.3" r="20.0"/><circle cx="439.0" cy="1502.3" r="20.0"/><circle cx="451.8" cy="1503.7" r="20.0"/><circle cx="424.4" cy="1515.6" r="20.0"/><circle cx="437.6" cy="1514.3" r="20.0"/><circle cx="405.0" cy="1522.0" r="20.0"/><circle cx="423.6" cy="1504.2" r="20.0"/><circle cx="467.2" cy="1473.7" r="20.0"/><circle cx="510.7" cy="1437.9" r="20.0"/><circle cx="532.5" cy="1432.3" r="20.0"/><circle cx="548.9" cy="1408.5" r="20.0"/><circle cx="576.1" cy="1404.2" r="20.0"/><circle cx="619.7" cy="1373.4" r="20.0"/><circle cx="641.5" cy="1362.5" r="20.0"/><circle cx="672.0" cy="1330.1" r="20.0"/><circle cx="706.8" cy="1304.1" r="20.0"/><circle cx="739.5" cy="1310.2" r="20.0"/><circle cx="759.1" cy="1271.2" r="20.0"/><circle cx="789.6" cy="1257.7" r="20.0"/><circle cx="812.6" cy="1237.2" r="20.0"/><circle cx="834.4" cy="1217.2" r="20.0"/><circle cx="856.2" cy="1204.5" r="20.0"/><circle cx="874.4" cy="1157.3" r="20.0"/><circle cx="883.4" cy="1173.6" r="20.0"/><circle cx="896.3" cy="1187.4" r="20.0"/><circle cx="924.6" cy="1163.4" r="20.0"/><circle cx="957.3" cy="1126.4" r="20.0"/><circle cx="985.6" cy="1139.4" r="20.0"/><circle cx="1003.0" cy="1110.0" r="20.0"/><circle cx="1003.0" cy="1305.0" r="20.0"/><circle cx="968.8" cy="1313.5" r="20.0"/><circle cx="945.0" cy="1292.6" r="20.0"/><circle cx="913.4" cy="1313.5" r="20.0"/><circle cx="878.9" cy="1297.1" r="20.0"/><circle cx="827.1" cy="1338.9" r="20.0"/><circle cx="781.7" cy="1354.3" r="20.0"/><circle cx="759.9" cy="1355.2" r="20.0"/><circle cx="750.4" cy="1373.9" r="20.0"/><circle cx="729.1" cy="1411.5" r="20.0"/><circle cx="714.5" cy="1407.9" r="20.0"/><circle cx="696.0" cy="1405.7" r="20.0"/><circle cx="668.7" cy="1436.2" r="20.0"/><circle cx="641.5" cy="1423.1" r="20.0"/><circle cx="619.7" cy="1433.8" r="20.0"/><circle cx="595.7" cy="1446.0" r="20.0"/><circle cx="565.2" cy="1458.0" r="20.0"/><circle cx="534.7" cy="1474.3" r="20.0"/><circle cx="510.7" cy="1481.0" r="20.0"/><circle cx="489.0" cy="1493.0" r="20.0"/><circle cx="472.0" cy="1504.0" r="20.0"/><circle cx="456.0" cy="1515.0" r="20.0"/><circle cx="437.0" cy="1521.0" r="20.0"/><circle cx="423.6" cy="1525.0" r="20.0"/><circle cx="405.1" cy="1524.0" r="20.0"/><circle cx="596.8" cy="1361.7" r="20.0"/><circle cx="1000.8" cy="1047.9" r="20.0"/><circle cx="1025.9" cy="1046.8" r="20.0"/><circle cx="868.0" cy="1345.2" r="20.0"/><circle cx="836.2" cy="1377.9" r="20.0"/><circle cx="859.8" cy="1375.2" r="20.0"/><circle cx="888.0" cy="1373.4" r="20.0"/><circle cx="850.7" cy="1364.3" r="20.0"/><circle cx="780.8" cy="1398.8" r="20.0"/><circle cx="871.6" cy="1418.8" r="20.0"/><circle cx="932.5" cy="1397.0" r="20.0"/><circle cx="1543.5" cy="1135.0" r="20.0"/>
</g>
<line x1="404.5" y1="1522.4" x2="2345.0" y2="426.2" stroke="#c810c4" stroke-width="7.6" stroke-linecap="round"/>
<g><defs>
<radialGradient id="gG" cx="0.5" cy="0.52" r="0.54" fx="0.5" fy="0.52">
<stop offset="0" stop-color="#c4ffe2"/><stop offset="0.10" stop-color="#9cffc0"/><stop offset="0.30" stop-color="#2cf850"/><stop offset="0.48" stop-color="#0cee30"/><stop offset="0.72" stop-color="#08d424"/><stop offset="0.90" stop-color="#0aa61e"/><stop offset="1" stop-color="#0b8a1c"/></radialGradient>
<radialGradient id="gGb" cx="0.5" cy="0.52" r="0.54" fx="0.5" fy="0.52">
<stop offset="0" stop-color="#d0ffe4"/><stop offset="0.3" stop-color="#50f070"/><stop offset="0.7" stop-color="#2cd448"/><stop offset="1" stop-color="#26a83c"/></radialGradient>
<radialGradient id="gR" cx="0.5" cy="0.53" r="0.54" fx="0.5" fy="0.53">
<stop offset="0" stop-color="#ffd8d0"/><stop offset="0.14" stop-color="#ff9a8c"/><stop offset="0.36" stop-color="#f6301c"/><stop offset="0.62" stop-color="#ee1c10"/><stop offset="0.84" stop-color="#d4140c"/><stop offset="0.95" stop-color="#a80c08"/><stop offset="1" stop-color="#8a0806"/></radialGradient>
<radialGradient id="gRf" cx="0.5" cy="0.53" r="0.54" fx="0.5" fy="0.53">
<stop offset="0" stop-color="#ffd6d0"/><stop offset="0.18" stop-color="#f88880"/><stop offset="0.45" stop-color="#ee5048"/><stop offset="0.85" stop-color="#e4423c"/><stop offset="1" stop-color="#d03430"/></radialGradient>
<radialGradient id="gB" cx="0.5" cy="0.53" r="0.54" fx="0.5" fy="0.53">
<stop offset="0" stop-color="#ffffff"/><stop offset="0.12" stop-color="#f0fbff"/><stop offset="0.34" stop-color="#a4d8f8"/><stop offset="0.55" stop-color="#74b4e4"/><stop offset="0.85" stop-color="#5e9ed2"/><stop offset="1" stop-color="#4e86b8"/></radialGradient>
</defs><circle cx="455.3" cy="1080.0" r="13.8" fill="url(#gRf)"/><circle cx="416.2" cy="1110.8" r="13.8" fill="url(#gRf)"/><circle cx="399.0" cy="1141.7" r="13.8" fill="url(#gRf)"/><circle cx="359.0" cy="1175.3" r="13.8" fill="url(#gRf)"/><circle cx="365.4" cy="1237.0" r="13.8" fill="url(#gRf)"/><circle cx="404.4" cy="1262.5" r="13.8" fill="url(#gRf)"/><circle cx="427.1" cy="1294.2" r="13.8" fill="url(#gRf)"/><circle cx="465.3" cy="1320.6" r="13.8" fill="url(#gRf)"/><circle cx="554.2" cy="1161.7" r="13.8" fill="url(#gRf)"/><circle cx="559.7" cy="1225.2" r="13.8" fill="url(#gRf)"/><circle cx="504.3" cy="1290.6" r="13.8" fill="url(#gRf)"/><circle cx="493.4" cy="1103.6" r="13.8" fill="url(#gRf)"/><circle cx="458.0" cy="1140.2" r="43.6" fill="url(#gGb)"/><circle cx="402.6" cy="1202.0" r="43.6" fill="url(#gGb)"/><circle cx="517.9" cy="1196.5" r="43.6" fill="url(#gGb)"/><circle cx="462.5" cy="1259.2" r="43.6" fill="url(#gGb)"/><rect x="464.4" y="1183.5" width="29.1" height="29.1" fill="#86c4ee"/><circle cx="433.5" cy="1109.0" r="14.2" fill="url(#gR)"/><circle cx="377.2" cy="1170.8" r="14.2" fill="url(#gR)"/><circle cx="341.8" cy="1203.4" r="14.2" fill="url(#gR)"/><circle cx="380.3" cy="1231.6" r="14.2" fill="url(#gR)"/><circle cx="441.3" cy="1288.8" r="14.2" fill="url(#gR)"/><circle cx="477.1" cy="1138.1" r="44.5" fill="url(#gG)"/><circle cx="421.7" cy="1199.8" r="44.5" fill="url(#gG)"/><circle cx="537.0" cy="1194.4" r="44.5" fill="url(#gG)"/><circle cx="481.6" cy="1257.0" r="44.5" fill="url(#gG)"/><circle cx="473.4" cy="1077.2" r="14.3" fill="url(#gR)"/><circle cx="454.4" cy="1108.1" r="14.3" fill="url(#gR)"/><circle cx="512.5" cy="1105.4" r="14.3" fill="url(#gR)"/><circle cx="418.1" cy="1139.9" r="14.3" fill="url(#gR)"/><circle cx="535.2" cy="1135.3" r="14.3" fill="url(#gR)"/><circle cx="399.0" cy="1169.8" r="14.3" fill="url(#gR)"/><circle cx="457.1" cy="1167.1" r="14.3" fill="url(#gR)"/><circle cx="515.2" cy="1165.3" r="14.3" fill="url(#gR)"/><circle cx="573.3" cy="1161.7" r="14.3" fill="url(#gR)"/><circle cx="362.7" cy="1202.2" r="14.3" fill="url(#gR)"/><circle cx="479.8" cy="1197.4" r="14.3" fill="url(#gR)"/><circle cx="596.0" cy="1191.6" r="14.3" fill="url(#gR)"/><circle cx="401.7" cy="1228.9" r="14.3" fill="url(#gR)"/><circle cx="459.8" cy="1227.0" r="14.3" fill="url(#gR)"/><circle cx="517.9" cy="1224.7" r="14.3" fill="url(#gR)"/><circle cx="576.0" cy="1221.6" r="14.3" fill="url(#gR)"/><circle cx="423.5" cy="1259.7" r="14.3" fill="url(#gR)"/><circle cx="540.6" cy="1255.2" r="14.3" fill="url(#gR)"/><circle cx="463.1" cy="1286.1" r="14.3" fill="url(#gR)"/><circle cx="520.7" cy="1283.3" r="14.3" fill="url(#gR)"/><circle cx="484.9" cy="1316.9" r="14.3" fill="url(#gR)"/><rect x="700.0" y="730.0" width="293.0" height="328.0" fill="#fff"/><circle cx="807.6" cy="759.7" r="14.7" fill="url(#gRf)"/><circle cx="768.8" cy="791.7" r="14.7" fill="url(#gRf)"/><circle cx="742.7" cy="816.9" r="14.7" fill="url(#gRf)"/><circle cx="704.9" cy="847.9" r="14.7" fill="url(#gRf)"/><circle cx="702.0" cy="915.7" r="14.7" fill="url(#gRf)"/><circle cx="734.9" cy="944.7" r="14.7" fill="url(#gRf)"/><circle cx="759.1" cy="981.5" r="14.7" fill="url(#gRf)"/><circle cx="792.1" cy="1010.6" r="14.7" fill="url(#gRf)"/><circle cx="840.5" cy="983.1" r="14.7" fill="url(#gRf)"/><circle cx="901.9" cy="925.7" r="14.7" fill="url(#gRf)"/><circle cx="808.5" cy="823.1" r="46.5" fill="url(#gGb)"/><circle cx="743.6" cy="880.2" r="46.5" fill="url(#gGb)"/><circle cx="864.7" cy="888.9" r="46.5" fill="url(#gGb)"/><circle cx="799.8" cy="947.0" r="46.5" fill="url(#gGb)"/><rect x="824.0" y="869.2" width="18.4" height="30.0" fill="#78b4e6"/><circle cx="788.2" cy="787.8" r="15.1" fill="url(#gR)"/><circle cx="723.3" cy="844.0" r="15.1" fill="url(#gR)"/><circle cx="676.8" cy="873.0" r="15.1" fill="url(#gR)"/><circle cx="720.4" cy="907.9" r="15.1" fill="url(#gR)"/><circle cx="775.6" cy="975.7" r="15.1" fill="url(#gR)"/><circle cx="828.9" cy="818.8" r="47.5" fill="url(#gG)"/><circle cx="764.0" cy="875.9" r="47.5" fill="url(#gG)"/><circle cx="885.1" cy="884.7" r="47.5" fill="url(#gG)"/><circle cx="820.2" cy="942.8" r="47.5" fill="url(#gG)"/><circle cx="829.5" cy="755.8" r="15.3" fill="url(#gR)"/><circle cx="808.5" cy="783.0" r="15.3" fill="url(#gR)"/><circle cx="871.1" cy="787.8" r="15.3" fill="url(#gR)"/><circle cx="765.0" cy="813.0" r="15.3" fill="url(#gR)"/><circle cx="886.4" cy="823.6" r="15.3" fill="url(#gR)"/><circle cx="744.0" cy="840.1" r="15.3" fill="url(#gR)"/><circle cx="806.0" cy="845.0" r="15.3" fill="url(#gR)"/><circle cx="865.7" cy="850.8" r="15.3" fill="url(#gR)"/><circle cx="928.1" cy="855.0" r="15.3" fill="url(#gR)"/><circle cx="700.1" cy="870.1" r="15.3" fill="url(#gR)"/><circle cx="821.1" cy="880.4" r="15.3" fill="url(#gR)"/><circle cx="943.6" cy="890.5" r="15.3" fill="url(#gR)"/><circle cx="741.1" cy="902.1" r="15.3" fill="url(#gR)"/><circle cx="800.4" cy="907.9" r="15.3" fill="url(#gR)"/><circle cx="862.4" cy="911.8" r="15.3" fill="url(#gR)"/><circle cx="921.9" cy="917.6" r="15.3" fill="url(#gR)"/><circle cx="756.2" cy="937.9" r="15.3" fill="url(#gR)"/><circle cx="878.3" cy="947.6" r="15.3" fill="url(#gR)"/><circle cx="797.9" cy="968.9" r="15.3" fill="url(#gR)"/><circle cx="857.0" cy="974.7" r="15.3" fill="url(#gR)"/><circle cx="812.4" cy="1005.7" r="15.3" fill="url(#gR)"/><circle cx="1179.9" cy="451.7" r="15.6" fill="url(#gRf)"/><circle cx="1260.2" cy="419.2" r="15.6" fill="url(#gRf)"/><circle cx="1169.0" cy="485.3" r="15.6" fill="url(#gRf)"/><circle cx="1145.4" cy="538.0" r="15.6" fill="url(#gRf)"/><circle cx="1133.6" cy="572.5" r="15.6" fill="url(#gRf)"/><circle cx="1223.5" cy="614.3" r="15.6" fill="url(#gRf)"/><circle cx="1307.0" cy="648.8" r="15.6" fill="url(#gRf)"/><circle cx="1349.2" cy="451.9" r="15.6" fill="url(#gRf)"/><circle cx="1235.3" cy="469.5" r="48.7" fill="url(#gGb)"/><circle cx="1318.9" cy="504.0" r="48.7" fill="url(#gGb)"/><circle cx="1199.0" cy="556.7" r="48.7" fill="url(#gGb)"/><circle cx="1282.5" cy="591.2" r="48.7" fill="url(#gGb)"/><circle cx="1198.1" cy="449.9" r="16.0" fill="url(#gR)"/><circle cx="1164.5" cy="538.0" r="16.0" fill="url(#gR)"/><circle cx="1187.2" cy="603.4" r="16.0" fill="url(#gR)"/><circle cx="1272.5" cy="641.5" r="16.0" fill="url(#gR)"/><circle cx="1254.4" cy="467.2" r="49.4" fill="url(#gG)"/><circle cx="1337.9" cy="501.7" r="49.4" fill="url(#gG)"/><circle cx="1218.1" cy="554.4" r="49.4" fill="url(#gG)"/><circle cx="1301.6" cy="588.9" r="49.4" fill="url(#gG)"/><circle cx="1278.9" cy="420.9" r="16.0" fill="url(#gR)"/><circle cx="1363.3" cy="456.3" r="16.0" fill="url(#gR)"/><circle cx="1242.6" cy="508.0" r="16.0" fill="url(#gR)"/><circle cx="1327.9" cy="544.4" r="16.0" fill="url(#gR)"/><circle cx="1308.9" cy="442.7" r="32.5" fill="url(#gB)"/><circle cx="1395.1" cy="479.0" r="32.5" fill="url(#gB)"/><circle cx="1273.4" cy="530.7" r="32.5" fill="url(#gB)"/><circle cx="1359.7" cy="566.2" r="32.5" fill="url(#gB)"/><circle cx="1218.1" cy="446.8" r="16.0" fill="url(#gR)"/><circle cx="1189.9" cy="481.3" r="16.0" fill="url(#gR)"/><circle cx="1303.1" cy="483.9" r="16.0" fill="url(#gR)"/><circle cx="1388.8" cy="519.8" r="16.0" fill="url(#gR)"/><circle cx="1182.6" cy="533.5" r="16.0" fill="url(#gR)"/><circle cx="1154.5" cy="568.0" r="16.0" fill="url(#gR)"/><circle cx="1268.0" cy="570.7" r="16.0" fill="url(#gR)"/><circle cx="1209.0" cy="596.1" r="16.0" fill="url(#gR)"/><circle cx="1354.3" cy="607.0" r="16.0" fill="url(#gR)"/><circle cx="1240.8" cy="609.7" r="16.0" fill="url(#gR)"/><circle cx="1294.3" cy="633.4" r="16.0" fill="url(#gR)"/><circle cx="1327.0" cy="645.2" r="16.0" fill="url(#gR)"/><rect x="1655.0" y="45.0" width="345.0" height="341.5" fill="#fff"/><circle cx="1802.5" cy="105.4" r="18.7" fill="url(#gRf)"/><circle cx="1815.6" cy="90.1" r="18.7" fill="url(#gRf)"/><circle cx="1706.7" cy="170.7" r="18.7" fill="url(#gRf)"/><circle cx="1721.9" cy="157.7" r="18.7" fill="url(#gRf)"/><circle cx="1680.5" cy="218.7" r="18.7" fill="url(#gRf)"/><circle cx="1745.9" cy="308.0" r="18.7" fill="url(#gRf)"/><circle cx="1860.3" cy="346.2" r="18.7" fill="url(#gRf)"/><circle cx="1847.2" cy="353.8" r="18.7" fill="url(#gRf)"/><circle cx="1942.0" cy="288.4" r="18.7" fill="url(#gRf)"/><circle cx="1932.2" cy="296.0" r="18.7" fill="url(#gRf)"/><circle cx="1848.3" cy="142.4" r="57.1" fill="url(#gGb)"/><circle cx="1765.5" cy="214.3" r="57.1" fill="url(#gGb)"/><circle cx="1911.5" cy="242.7" r="57.1" fill="url(#gGb)"/><circle cx="1824.3" cy="305.9" r="57.1" fill="url(#gGb)"/><circle cx="1858.1" cy="219.8" r="57.1" fill="url(#gGb)"/><circle cx="1882.1" cy="79.2" r="19.2" fill="url(#gR)"/><circle cx="1791.6" cy="142.4" r="19.2" fill="url(#gR)"/><circle cx="1713.2" cy="242.7" r="19.2" fill="url(#gR)"/><circle cx="1775.3" cy="333.1" r="19.2" fill="url(#gR)"/><circle cx="1955.1" cy="168.6" r="19.2" fill="url(#gR)"/><circle cx="1865.7" cy="229.6" r="19.2" fill="url(#gR)"/><circle cx="1862.5" cy="135.9" r="57.7" fill="url(#gG)"/><circle cx="1774.2" cy="200.2" r="57.7" fill="url(#gG)"/><circle cx="1926.7" cy="229.6" r="57.7" fill="url(#gG)"/><circle cx="1839.6" cy="290.6" r="57.7" fill="url(#gG)"/><circle cx="1908.2" cy="102.1" r="19.2" fill="url(#gR)"/><circle cx="1820.0" cy="166.4" r="19.2" fill="url(#gR)"/><circle cx="1920.2" cy="142.4" r="38.4" fill="url(#gB)"/><circle cx="1830.9" cy="205.6" r="38.4" fill="url(#gB)"/><circle cx="1838.5" cy="85.8" r="19.2" fill="url(#gR)"/><circle cx="1750.2" cy="147.9" r="19.2" fill="url(#gR)"/><circle cx="1901.7" cy="179.5" r="19.2" fill="url(#gR)"/><circle cx="1971.4" cy="193.6" r="19.2" fill="url(#gR)"/><circle cx="1704.5" cy="205.6" r="19.2" fill="url(#gR)"/><circle cx="1730.6" cy="228.5" r="19.2" fill="url(#gR)"/><circle cx="1813.4" cy="241.6" r="19.2" fill="url(#gR)"/><circle cx="1883.2" cy="255.7" r="19.2" fill="url(#gR)"/><circle cx="1966.0" cy="265.5" r="19.2" fill="url(#gR)"/><circle cx="1767.7" cy="295.0" r="19.2" fill="url(#gR)"/><circle cx="1794.9" cy="318.9" r="19.2" fill="url(#gR)"/><circle cx="1877.7" cy="327.6" r="19.2" fill="url(#gR)"/></g>
<rect x="339" y="35" width="640" height="110" rx="9" ry="9" fill="#fff" fill-opacity="0.85" stroke="#d4d4d4" stroke-width="4"/>
<circle cx="422.8" cy="89.8" r="21" fill="#1f77b4"/>
<text x="532.9" y="106.7" font-size="63.5" textLength="233.6" lengthAdjust="spacingAndGlyphs" fill="#111">Wyckoff</text>
<text x="785.9" y="106.7" font-size="63.5" textLength="169.0" lengthAdjust="spacingAndGlyphs" fill="#111">RMSE</text>
<rect x="309.7" y="7.8" width="2131.6" height="1589.7" fill="none" stroke="#1a1a1a" stroke-width="5.8"/>
<path d="M365.9 1597.5 V1618.2 M762.1 1597.5 V1618.2 M1158.3 1597.5 V1618.2 M1554.5 1597.5 V1618.2 M1950.7 1597.5 V1618.2 M2346.9 1597.5 V1618.2 M309.7 1545.3 H288.0 M309.7 1341.1 H288.0 M309.7 1136.9 H288.0 M309.7 932.6 H288.0 M309.7 728.4 H288.0 M309.7 524.2 H288.0 M309.7 320.0 H288.0 M309.7 115.8 H288.0" stroke="#1a1a1a" stroke-width="5.0" fill="none"/>
<text x="348.2" y="1685" font-size="64.5" textLength="36.0" lengthAdjust="spacingAndGlyphs" fill="#111">0</text>
<text x="724.9" y="1685" font-size="64.5" textLength="74.9" lengthAdjust="spacingAndGlyphs" fill="#111">10</text>
<text x="1121.1" y="1685" font-size="64.5" textLength="74.9" lengthAdjust="spacingAndGlyphs" fill="#111">20</text>
<text x="1517.3" y="1685" font-size="64.5" textLength="74.9" lengthAdjust="spacingAndGlyphs" fill="#111">30</text>
<text x="1913.5" y="1685" font-size="64.5" textLength="74.9" lengthAdjust="spacingAndGlyphs" fill="#111">40</text>
<text x="2309.8" y="1685" font-size="64.5" textLength="74.9" lengthAdjust="spacingAndGlyphs" fill="#111">50</text>
<text x="135" y="1569.5" font-size="64.5" textLength="130.6" lengthAdjust="spacingAndGlyphs" fill="#111">0.00</text>
<text x="135" y="1365.3" font-size="64.5" textLength="130.6" lengthAdjust="spacingAndGlyphs" fill="#111">0.02</text>
<text x="135" y="1161.1" font-size="64.5" textLength="130.6" lengthAdjust="spacingAndGlyphs" fill="#111">0.04</text>
<text x="135" y="956.8" font-size="64.5" textLength="130.6" lengthAdjust="spacingAndGlyphs" fill="#111">0.06</text>
<text x="135" y="752.6" font-size="64.5" textLength="130.6" lengthAdjust="spacingAndGlyphs" fill="#111">0.08</text>
<text x="135" y="548.4" font-size="64.5" textLength="130.6" lengthAdjust="spacingAndGlyphs" fill="#111">0.10</text>
<text x="135" y="344.2" font-size="64.5" textLength="130.6" lengthAdjust="spacingAndGlyphs" fill="#111">0.12</text>
<text x="135" y="140.0" font-size="64.5" textLength="130.6" lengthAdjust="spacingAndGlyphs" fill="#111">0.14</text>
<text x="902.8" y="1788.5" font-size="96" textLength="557.7" lengthAdjust="spacingAndGlyphs" fill="#111">Perturbation</text>
<text x="1485.7" y="1788.5" font-size="96" textLength="169.8" lengthAdjust="spacingAndGlyphs" fill="#111">size</text>
<text x="1689.9" y="1788.5" font-size="96" textLength="156.2" lengthAdjust="spacingAndGlyphs" fill="#111">(%)</text>
<text transform="translate(92.4,1196.1) rotate(-90)" font-size="96" textLength="355.0" lengthAdjust="spacingAndGlyphs" fill="#111">Wyckoff</text>
<text transform="translate(92.4,816.9) rotate(-90)" font-size="96" textLength="267.0" lengthAdjust="spacingAndGlyphs" fill="#111">RMSE</text>
<text transform="translate(92.4,524.6) rotate(-90)" font-size="96" textLength="123.4" lengthAdjust="spacingAndGlyphs" fill="#111">(Å)</text>
</svg>
</body></html>
